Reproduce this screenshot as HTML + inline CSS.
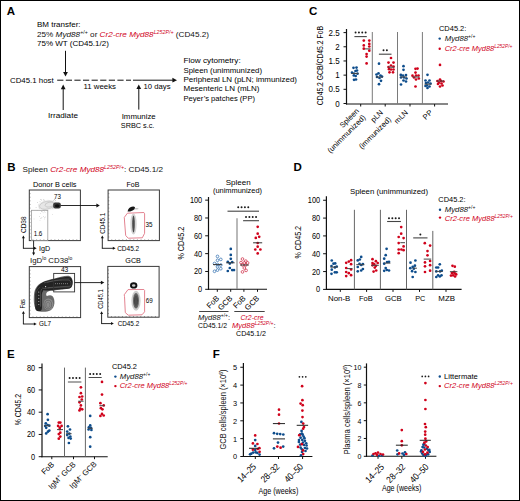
<!DOCTYPE html>
<html><head><meta charset="utf-8"><title>Figure</title>
<style>
html,body{margin:0;padding:0;background:#fff;}
svg{display:block;}
svg text{font-family:"Liberation Sans", sans-serif;}
</style></head>
<body>
<svg width="520" height="501" viewBox="0 0 520 501">
<rect x="0" y="0" width="520" height="501" fill="#fff"/>
<text x="6.80" y="15.20" font-size="11.5" fill="#000" font-weight="bold" >A</text>
<text x="308.90" y="15.20" font-size="11.5" fill="#000" font-weight="bold" >C</text>
<text x="7.20" y="171.40" font-size="11.5" fill="#000" font-weight="bold" >B</text>
<text x="293.60" y="171.40" font-size="11.5" fill="#000" font-weight="bold" >D</text>
<text x="7.00" y="357.80" font-size="11.5" fill="#000" font-weight="bold" >E</text>
<text x="212.80" y="357.80" font-size="11.5" fill="#000" font-weight="bold" >F</text>
<text x="37.00" y="26.80" font-size="8" >BM transfer:</text>
<text x="37" y="36.5" font-size="8" fill="#111" textLength="172" lengthAdjust="spacingAndGlyphs">25% <tspan font-style="italic">Myd88</tspan><tspan font-size="5.2" dy="-3">+/+</tspan><tspan dy="3"> or </tspan><tspan fill="#d0021b" font-style="italic">Cr2-cre Myd88</tspan><tspan fill="#d0021b" font-style="italic" font-size="5.2" dy="-3">L252P/+</tspan><tspan dy="3"> (CD45.2)</tspan></text>
<text x="37.00" y="45.50" font-size="8" >75% WT (CD45.1/2)</text>
<line x1="65.50" y1="50.80" x2="65.50" y2="72.40" stroke="#111" stroke-width="1" />
<path d="M63.10,71.90 L67.90,71.90 L65.50,76.50 Z" fill="#111"/>
<text x="10.00" y="82.60" font-size="8" textLength="43.70" lengthAdjust="spacingAndGlyphs" >CD45.1 host</text>
<line x1="57.2" y1="80.2" x2="131" y2="80.2" stroke="#111" stroke-width="1" stroke-dasharray="6.2 2.4"/>
<line x1="133.00" y1="80.20" x2="172.90" y2="80.20" stroke="#111" stroke-width="1" />
<path d="M172.40,77.80 L172.40,82.60 L177.00,80.20 Z" fill="#111"/>
<line x1="63.20" y1="110.00" x2="63.20" y2="88.70" stroke="#111" stroke-width="1" />
<path d="M60.80,89.20 L65.60,89.20 L63.20,84.60 Z" fill="#111"/>
<line x1="138.80" y1="109.60" x2="138.80" y2="88.50" stroke="#111" stroke-width="1" />
<path d="M136.40,89.00 L141.20,89.00 L138.80,84.40 Z" fill="#111"/>
<text x="83.50" y="88.60" font-size="8" textLength="32.50" lengthAdjust="spacingAndGlyphs" >11 weeks</text>
<text x="143.50" y="88.60" font-size="8" textLength="27.00" lengthAdjust="spacingAndGlyphs" >10 days</text>
<text x="48.00" y="118.20" font-size="8" textLength="30.00" lengthAdjust="spacingAndGlyphs" >Irradiate</text>
<text x="121.70" y="118.60" font-size="8" textLength="34.00" lengthAdjust="spacingAndGlyphs" >Immunize</text>
<text x="120.80" y="127.80" font-size="8" textLength="33.60" lengthAdjust="spacingAndGlyphs" >SRBC s.c.</text>
<text x="183.50" y="63.00" font-size="8" textLength="57.20" lengthAdjust="spacingAndGlyphs" >Flow cytometry:</text>
<text x="183.50" y="72.50" font-size="8" textLength="78.50" lengthAdjust="spacingAndGlyphs" >Spleen (unimmunized)</text>
<text x="183.50" y="82.00" font-size="8" textLength="113.50" lengthAdjust="spacingAndGlyphs" >Peripheral LN (pLN; immunized)</text>
<text x="183.50" y="91.30" font-size="8" textLength="76.00" lengthAdjust="spacingAndGlyphs" >Mesenteric LN (mLN)</text>
<text x="183.50" y="100.80" font-size="8" textLength="71.50" lengthAdjust="spacingAndGlyphs" >Peyer’s patches (PP)</text>
<line x1="346.50" y1="29.00" x2="346.50" y2="104.50" stroke="#111" stroke-width="1.2" />
<line x1="343.50" y1="32.60" x2="346.50" y2="32.60" stroke="#111" stroke-width="1" />
<text x="339.60" y="35.70" font-size="8.6" text-anchor="end" textLength="11.10" lengthAdjust="spacingAndGlyphs" >2.5</text>
<line x1="343.50" y1="46.78" x2="346.50" y2="46.78" stroke="#111" stroke-width="1" />
<text x="339.60" y="49.88" font-size="8.6" text-anchor="end" textLength="4.44" lengthAdjust="spacingAndGlyphs" >2</text>
<line x1="343.50" y1="60.96" x2="346.50" y2="60.96" stroke="#111" stroke-width="1" />
<text x="339.60" y="64.06" font-size="8.6" text-anchor="end" textLength="11.10" lengthAdjust="spacingAndGlyphs" >1.5</text>
<line x1="343.50" y1="75.14" x2="346.50" y2="75.14" stroke="#111" stroke-width="1" />
<text x="339.60" y="78.24" font-size="8.6" text-anchor="end" textLength="4.44" lengthAdjust="spacingAndGlyphs" >1</text>
<line x1="343.50" y1="89.32" x2="346.50" y2="89.32" stroke="#111" stroke-width="1" />
<text x="339.60" y="92.42" font-size="8.6" text-anchor="end" textLength="11.10" lengthAdjust="spacingAndGlyphs" >0.5</text>
<line x1="343.50" y1="103.50" x2="346.50" y2="103.50" stroke="#111" stroke-width="1" />
<text x="339.60" y="106.60" font-size="8.6" text-anchor="end" textLength="4.44" lengthAdjust="spacingAndGlyphs" >0</text>
<line x1="346.00" y1="104.00" x2="448.00" y2="104.00" stroke="#111" stroke-width="1.1" />
<line x1="360.70" y1="104.00" x2="360.70" y2="106.50" stroke="#111" stroke-width="1" />
<line x1="385.20" y1="104.00" x2="385.20" y2="106.50" stroke="#111" stroke-width="1" />
<line x1="410.00" y1="104.00" x2="410.00" y2="106.50" stroke="#111" stroke-width="1" />
<line x1="434.60" y1="104.00" x2="434.60" y2="106.50" stroke="#111" stroke-width="1" />
<line x1="372.30" y1="32.00" x2="372.30" y2="104.00" stroke="#7a7a7a" stroke-width="1" />
<line x1="397.50" y1="32.00" x2="397.50" y2="104.00" stroke="#7a7a7a" stroke-width="1" />
<line x1="422.40" y1="32.00" x2="422.40" y2="104.00" stroke="#7a7a7a" stroke-width="1" />
<text x="322.90" y="65.60" font-size="9.2" text-anchor="middle" textLength="79.20" lengthAdjust="spacingAndGlyphs" transform="rotate(-90 322.90 65.60)" >CD45.2 GCB/CD45.2 FoB</text>
<line x1="354.40" y1="36.60" x2="366.80" y2="36.60" stroke="#444" stroke-width="1.1" />
<circle cx="355.58" cy="32.60" r="0.98" fill="#1a1a1a"/>
<circle cx="358.93" cy="32.60" r="0.98" fill="#1a1a1a"/>
<circle cx="362.28" cy="32.60" r="0.98" fill="#1a1a1a"/>
<circle cx="365.63" cy="32.60" r="0.98" fill="#1a1a1a"/>
<line x1="378.90" y1="54.20" x2="391.50" y2="54.20" stroke="#444" stroke-width="1.1" />
<circle cx="383.52" cy="50.20" r="0.98" fill="#1a1a1a"/>
<circle cx="386.88" cy="50.20" r="0.98" fill="#1a1a1a"/>
<circle cx="353.50" cy="67.80" r="1.35" fill="#0e4d8c"/>
<circle cx="356.50" cy="67.60" r="1.35" fill="#0e4d8c"/>
<circle cx="352.00" cy="72.70" r="1.35" fill="#0e4d8c"/>
<circle cx="355.50" cy="71.00" r="1.35" fill="#0e4d8c"/>
<circle cx="357.00" cy="70.50" r="1.35" fill="#0e4d8c"/>
<circle cx="354.00" cy="73.50" r="1.35" fill="#0e4d8c"/>
<circle cx="357.50" cy="73.70" r="1.35" fill="#0e4d8c"/>
<circle cx="353.80" cy="75.50" r="1.35" fill="#0e4d8c"/>
<circle cx="355.70" cy="76.00" r="1.35" fill="#0e4d8c"/>
<circle cx="354.00" cy="79.80" r="1.35" fill="#0e4d8c"/>
<circle cx="356.00" cy="79.50" r="1.35" fill="#0e4d8c"/>
<circle cx="363.80" cy="40.60" r="1.35" fill="#d0021b"/>
<circle cx="369.30" cy="40.60" r="1.35" fill="#d0021b"/>
<circle cx="369.30" cy="43.90" r="1.35" fill="#d0021b"/>
<circle cx="363.80" cy="45.40" r="1.35" fill="#d0021b"/>
<circle cx="369.30" cy="46.50" r="1.35" fill="#d0021b"/>
<circle cx="363.80" cy="48.70" r="1.35" fill="#d0021b"/>
<circle cx="369.30" cy="50.70" r="1.35" fill="#d0021b"/>
<circle cx="366.60" cy="54.00" r="1.35" fill="#d0021b"/>
<circle cx="366.60" cy="56.60" r="1.35" fill="#d0021b"/>
<circle cx="366.60" cy="63.40" r="1.35" fill="#d0021b"/>
<circle cx="379.00" cy="63.70" r="1.35" fill="#0e4d8c"/>
<circle cx="376.50" cy="74.50" r="1.35" fill="#0e4d8c"/>
<circle cx="378.50" cy="73.30" r="1.35" fill="#0e4d8c"/>
<circle cx="380.50" cy="75.50" r="1.35" fill="#0e4d8c"/>
<circle cx="382.00" cy="76.60" r="1.35" fill="#0e4d8c"/>
<circle cx="377.00" cy="77.00" r="1.35" fill="#0e4d8c"/>
<circle cx="379.50" cy="78.00" r="1.35" fill="#0e4d8c"/>
<circle cx="381.00" cy="80.80" r="1.35" fill="#0e4d8c"/>
<circle cx="379.00" cy="84.20" r="1.35" fill="#0e4d8c"/>
<circle cx="391.00" cy="58.00" r="1.35" fill="#d0021b"/>
<circle cx="388.50" cy="62.60" r="1.35" fill="#d0021b"/>
<circle cx="393.50" cy="62.60" r="1.35" fill="#d0021b"/>
<circle cx="391.00" cy="65.50" r="1.35" fill="#d0021b"/>
<circle cx="388.50" cy="67.00" r="1.35" fill="#d0021b"/>
<circle cx="393.50" cy="66.50" r="1.35" fill="#d0021b"/>
<circle cx="389.00" cy="69.20" r="1.35" fill="#d0021b"/>
<circle cx="391.00" cy="69.50" r="1.35" fill="#d0021b"/>
<circle cx="393.50" cy="69.50" r="1.35" fill="#d0021b"/>
<circle cx="389.50" cy="72.30" r="1.35" fill="#d0021b"/>
<circle cx="393.00" cy="72.30" r="1.35" fill="#d0021b"/>
<circle cx="403.50" cy="66.20" r="1.35" fill="#0e4d8c"/>
<circle cx="403.50" cy="69.80" r="1.35" fill="#0e4d8c"/>
<circle cx="400.80" cy="74.90" r="1.35" fill="#0e4d8c"/>
<circle cx="403.00" cy="75.50" r="1.35" fill="#0e4d8c"/>
<circle cx="406.00" cy="75.00" r="1.35" fill="#0e4d8c"/>
<circle cx="401.00" cy="77.50" r="1.35" fill="#0e4d8c"/>
<circle cx="404.00" cy="77.50" r="1.35" fill="#0e4d8c"/>
<circle cx="406.50" cy="78.50" r="1.35" fill="#0e4d8c"/>
<circle cx="403.50" cy="80.50" r="1.35" fill="#0e4d8c"/>
<circle cx="406.00" cy="81.50" r="1.35" fill="#0e4d8c"/>
<circle cx="401.00" cy="84.50" r="1.35" fill="#0e4d8c"/>
<circle cx="415.50" cy="68.80" r="1.35" fill="#d0021b"/>
<circle cx="417.50" cy="68.60" r="1.35" fill="#d0021b"/>
<circle cx="415.50" cy="72.60" r="1.35" fill="#d0021b"/>
<circle cx="412.50" cy="75.70" r="1.35" fill="#d0021b"/>
<circle cx="416.00" cy="75.50" r="1.35" fill="#d0021b"/>
<circle cx="418.50" cy="75.50" r="1.35" fill="#d0021b"/>
<circle cx="414.00" cy="77.50" r="1.35" fill="#d0021b"/>
<circle cx="418.80" cy="78.50" r="1.35" fill="#d0021b"/>
<circle cx="416.00" cy="79.50" r="1.35" fill="#d0021b"/>
<circle cx="415.50" cy="86.50" r="1.35" fill="#d0021b"/>
<circle cx="427.50" cy="74.80" r="1.35" fill="#0e4d8c"/>
<circle cx="425.50" cy="80.50" r="1.35" fill="#0e4d8c"/>
<circle cx="429.50" cy="80.50" r="1.35" fill="#0e4d8c"/>
<circle cx="426.00" cy="83.00" r="1.35" fill="#0e4d8c"/>
<circle cx="428.00" cy="82.50" r="1.35" fill="#0e4d8c"/>
<circle cx="430.50" cy="83.50" r="1.35" fill="#0e4d8c"/>
<circle cx="427.00" cy="85.50" r="1.35" fill="#0e4d8c"/>
<circle cx="429.50" cy="86.50" r="1.35" fill="#0e4d8c"/>
<circle cx="425.50" cy="86.00" r="1.35" fill="#0e4d8c"/>
<circle cx="427.50" cy="88.00" r="1.35" fill="#0e4d8c"/>
<circle cx="440.00" cy="64.90" r="1.35" fill="#d0021b"/>
<circle cx="440.00" cy="79.50" r="1.35" fill="#d0021b"/>
<circle cx="437.50" cy="81.00" r="1.35" fill="#d0021b"/>
<circle cx="441.00" cy="81.00" r="1.35" fill="#d0021b"/>
<circle cx="443.50" cy="81.50" r="1.35" fill="#d0021b"/>
<circle cx="439.00" cy="82.60" r="1.35" fill="#d0021b"/>
<circle cx="441.50" cy="83.50" r="1.35" fill="#d0021b"/>
<circle cx="438.00" cy="84.00" r="1.35" fill="#d0021b"/>
<circle cx="440.00" cy="86.50" r="1.35" fill="#d0021b"/>
<circle cx="442.50" cy="85.50" r="1.35" fill="#d0021b"/>
<line x1="351.50" y1="73.50" x2="358.50" y2="73.50" stroke="#444" stroke-width="1" />
<line x1="364.90" y1="48.90" x2="370.60" y2="48.90" stroke="#444" stroke-width="1" />
<line x1="376.00" y1="77.00" x2="383.00" y2="77.00" stroke="#444" stroke-width="1" />
<line x1="388.00" y1="67.20" x2="394.50" y2="67.20" stroke="#444" stroke-width="1" />
<line x1="400.50" y1="77.00" x2="407.00" y2="77.00" stroke="#444" stroke-width="1" />
<line x1="412.50" y1="77.00" x2="419.50" y2="77.00" stroke="#444" stroke-width="1" />
<line x1="424.50" y1="84.20" x2="431.50" y2="84.20" stroke="#444" stroke-width="1" />
<line x1="436.50" y1="81.00" x2="444.00" y2="81.00" stroke="#444" stroke-width="1" />
<text x="359.50" y="111.50" font-size="7.6" text-anchor="end" transform="rotate(-45 359.50 111.50)" >Spleen</text>
<text x="366.00" y="118.00" font-size="7.6" text-anchor="end" transform="rotate(-45 366.00 118.00)" >(unimmunized)</text>
<text x="383.50" y="113.00" font-size="7.6" text-anchor="end" transform="rotate(-45 383.50 113.00)" >pLN</text>
<text x="391.50" y="120.00" font-size="7.6" text-anchor="end" transform="rotate(-45 391.50 120.00)" >(immunized)</text>
<text x="408.50" y="113.00" font-size="7.6" text-anchor="end" transform="rotate(-45 408.50 113.00)" >mLN</text>
<text x="433.00" y="113.00" font-size="7.6" text-anchor="end" transform="rotate(-45 433.00 113.00)" >PP</text>
<text x="439.00" y="31.00" font-size="7.8" textLength="27.30" lengthAdjust="spacingAndGlyphs" >CD45.2:</text>
<circle cx="439.70" cy="38.60" r="1.2" fill="#0e4d8c"/>
<text x="444.7" y="41" font-size="7.8" font-style="italic" fill="#111">Myd88<tspan font-size="5" dy="-3" font-style="normal">+/+</tspan></text>
<circle cx="439.70" cy="48.80" r="1.2" fill="#d0021b"/>
<text x="444.7" y="50.8" font-size="7.8" font-style="italic" fill="#d0021b" textLength="67.6" lengthAdjust="spacingAndGlyphs">Cr2-cre Myd88<tspan font-size="5" dy="-3">L252P/+</tspan></text>
<text x="22.5" y="171.5" font-size="8" fill="#111" textLength="140.5" lengthAdjust="spacingAndGlyphs">Spleen <tspan fill="#d0021b" font-style="italic">Cr2-cre Myd88</tspan><tspan fill="#d0021b" font-style="italic" font-size="5.2" dy="-3">L252P/+</tspan><tspan dy="3">: CD45.1/2</tspan></text>
<defs><filter id="bl" x="-50%" y="-50%" width="200%" height="200%"><feGaussianBlur stdDeviation="0.6"/></filter><filter id="bl2" x="-50%" y="-50%" width="200%" height="200%"><feGaussianBlur stdDeviation="1.2"/></filter></defs>
<text x="32.90" y="186.70" font-size="8" textLength="43.60" lengthAdjust="spacingAndGlyphs" >Donor B cells</text>
<rect x="29.30" y="190.00" width="51.10" height="50.60" fill="none" stroke="#3a3a3a" stroke-width="1"/>
<line x1="29.30" y1="193.61" x2="30.50" y2="193.61" stroke="#555" stroke-width="0.6" />
<line x1="32.95" y1="240.60" x2="32.95" y2="239.40" stroke="#555" stroke-width="0.6" />
<line x1="29.30" y1="197.23" x2="30.50" y2="197.23" stroke="#555" stroke-width="0.6" />
<line x1="36.60" y1="240.60" x2="36.60" y2="239.40" stroke="#555" stroke-width="0.6" />
<line x1="29.30" y1="200.84" x2="30.50" y2="200.84" stroke="#555" stroke-width="0.6" />
<line x1="40.25" y1="240.60" x2="40.25" y2="239.40" stroke="#555" stroke-width="0.6" />
<line x1="29.30" y1="204.46" x2="30.50" y2="204.46" stroke="#555" stroke-width="0.6" />
<line x1="43.90" y1="240.60" x2="43.90" y2="239.40" stroke="#555" stroke-width="0.6" />
<line x1="29.30" y1="208.07" x2="30.50" y2="208.07" stroke="#555" stroke-width="0.6" />
<line x1="47.55" y1="240.60" x2="47.55" y2="239.40" stroke="#555" stroke-width="0.6" />
<line x1="29.30" y1="211.69" x2="30.50" y2="211.69" stroke="#555" stroke-width="0.6" />
<line x1="51.20" y1="240.60" x2="51.20" y2="239.40" stroke="#555" stroke-width="0.6" />
<line x1="29.30" y1="215.30" x2="30.50" y2="215.30" stroke="#555" stroke-width="0.6" />
<line x1="54.85" y1="240.60" x2="54.85" y2="239.40" stroke="#555" stroke-width="0.6" />
<line x1="29.30" y1="218.91" x2="30.50" y2="218.91" stroke="#555" stroke-width="0.6" />
<line x1="58.50" y1="240.60" x2="58.50" y2="239.40" stroke="#555" stroke-width="0.6" />
<line x1="29.30" y1="222.53" x2="30.50" y2="222.53" stroke="#555" stroke-width="0.6" />
<line x1="62.15" y1="240.60" x2="62.15" y2="239.40" stroke="#555" stroke-width="0.6" />
<line x1="29.30" y1="226.14" x2="30.50" y2="226.14" stroke="#555" stroke-width="0.6" />
<line x1="65.80" y1="240.60" x2="65.80" y2="239.40" stroke="#555" stroke-width="0.6" />
<line x1="29.30" y1="229.76" x2="30.50" y2="229.76" stroke="#555" stroke-width="0.6" />
<line x1="69.45" y1="240.60" x2="69.45" y2="239.40" stroke="#555" stroke-width="0.6" />
<line x1="29.30" y1="233.37" x2="30.50" y2="233.37" stroke="#555" stroke-width="0.6" />
<line x1="73.10" y1="240.60" x2="73.10" y2="239.40" stroke="#555" stroke-width="0.6" />
<line x1="29.30" y1="236.99" x2="30.50" y2="236.99" stroke="#555" stroke-width="0.6" />
<line x1="76.75" y1="240.60" x2="76.75" y2="239.40" stroke="#555" stroke-width="0.6" />
<circle cx="46.43" cy="208.75" r="0.45" fill="#aaa"/>
<circle cx="41.81" cy="208.08" r="0.45" fill="#aaa"/>
<circle cx="44.83" cy="204.82" r="0.45" fill="#aaa"/>
<circle cx="54.55" cy="205.91" r="0.45" fill="#aaa"/>
<circle cx="45.81" cy="207.40" r="0.45" fill="#aaa"/>
<circle cx="51.07" cy="205.42" r="0.45" fill="#aaa"/>
<circle cx="48.65" cy="202.97" r="0.45" fill="#aaa"/>
<circle cx="44.35" cy="204.36" r="0.45" fill="#aaa"/>
<circle cx="40.00" cy="201.58" r="0.45" fill="#aaa"/>
<circle cx="38.68" cy="204.88" r="0.45" fill="#aaa"/>
<circle cx="45.22" cy="204.67" r="0.45" fill="#aaa"/>
<circle cx="46.31" cy="202.03" r="0.45" fill="#aaa"/>
<circle cx="45.64" cy="206.12" r="0.45" fill="#aaa"/>
<circle cx="49.38" cy="203.30" r="0.45" fill="#aaa"/>
<circle cx="44.20" cy="200.26" r="0.45" fill="#aaa"/>
<circle cx="43.73" cy="199.79" r="0.45" fill="#aaa"/>
<circle cx="39.61" cy="208.36" r="0.45" fill="#aaa"/>
<circle cx="36.09" cy="207.58" r="0.45" fill="#aaa"/>
<circle cx="47.48" cy="204.69" r="0.45" fill="#aaa"/>
<circle cx="48.07" cy="206.87" r="0.45" fill="#aaa"/>
<circle cx="50.70" cy="204.90" r="0.45" fill="#aaa"/>
<circle cx="43.34" cy="203.93" r="0.45" fill="#aaa"/>
<circle cx="41.56" cy="205.38" r="0.45" fill="#aaa"/>
<circle cx="42.46" cy="208.28" r="0.45" fill="#aaa"/>
<circle cx="37.59" cy="202.66" r="0.45" fill="#aaa"/>
<circle cx="41.71" cy="200.06" r="0.45" fill="#aaa"/>
<circle cx="54.56" cy="199.24" r="0.45" fill="#aaa"/>
<circle cx="44.73" cy="204.13" r="0.45" fill="#aaa"/>
<circle cx="53.45" cy="200.34" r="0.45" fill="#aaa"/>
<circle cx="50.82" cy="203.60" r="0.45" fill="#aaa"/>
<circle cx="45.30" cy="203.76" r="0.45" fill="#aaa"/>
<circle cx="48.88" cy="202.54" r="0.45" fill="#aaa"/>
<circle cx="45.64" cy="206.42" r="0.45" fill="#aaa"/>
<circle cx="54.28" cy="199.25" r="0.45" fill="#aaa"/>
<circle cx="52.86" cy="207.96" r="0.45" fill="#aaa"/>
<circle cx="43.82" cy="206.29" r="0.45" fill="#aaa"/>
<circle cx="43.90" cy="209.78" r="0.45" fill="#aaa"/>
<circle cx="46.94" cy="204.94" r="0.45" fill="#aaa"/>
<circle cx="44.97" cy="204.98" r="0.45" fill="#aaa"/>
<circle cx="45.21" cy="203.21" r="0.45" fill="#aaa"/>
<circle cx="55.26" cy="200.53" r="0.45" fill="#aaa"/>
<circle cx="45.34" cy="206.47" r="0.45" fill="#aaa"/>
<circle cx="45.08" cy="205.11" r="0.45" fill="#aaa"/>
<circle cx="47.50" cy="208.02" r="0.45" fill="#aaa"/>
<circle cx="43.98" cy="204.53" r="0.45" fill="#aaa"/>
<circle cx="54.73" cy="206.88" r="0.45" fill="#aaa"/>
<circle cx="41.57" cy="211.54" r="0.45" fill="#aaa"/>
<circle cx="49.49" cy="203.97" r="0.45" fill="#aaa"/>
<circle cx="40.72" cy="206.28" r="0.45" fill="#aaa"/>
<circle cx="42.26" cy="202.75" r="0.45" fill="#aaa"/>
<circle cx="40.17" cy="204.18" r="0.45" fill="#aaa"/>
<circle cx="50.98" cy="204.37" r="0.45" fill="#aaa"/>
<circle cx="39.48" cy="207.24" r="0.45" fill="#aaa"/>
<circle cx="46.30" cy="207.69" r="0.45" fill="#aaa"/>
<circle cx="51.41" cy="205.06" r="0.45" fill="#aaa"/>
<circle cx="45.35" cy="205.38" r="0.45" fill="#aaa"/>
<circle cx="40.89" cy="207.24" r="0.45" fill="#aaa"/>
<circle cx="52.17" cy="205.95" r="0.45" fill="#aaa"/>
<circle cx="44.93" cy="204.82" r="0.45" fill="#aaa"/>
<circle cx="42.49" cy="203.41" r="0.45" fill="#aaa"/>
<circle cx="44.20" cy="203.31" r="0.45" fill="#aaa"/>
<circle cx="44.03" cy="201.40" r="0.45" fill="#aaa"/>
<circle cx="47.58" cy="205.63" r="0.45" fill="#aaa"/>
<circle cx="40.81" cy="199.52" r="0.45" fill="#aaa"/>
<circle cx="45.96" cy="208.37" r="0.45" fill="#aaa"/>
<circle cx="42.70" cy="204.24" r="0.45" fill="#aaa"/>
<circle cx="43.44" cy="207.20" r="0.45" fill="#aaa"/>
<circle cx="41.88" cy="208.06" r="0.45" fill="#aaa"/>
<circle cx="44.64" cy="207.90" r="0.45" fill="#aaa"/>
<circle cx="43.13" cy="212.84" r="0.4" fill="#bbb"/>
<circle cx="37.09" cy="210.56" r="0.4" fill="#bbb"/>
<circle cx="41.95" cy="217.30" r="0.4" fill="#bbb"/>
<circle cx="43.98" cy="210.52" r="0.4" fill="#bbb"/>
<circle cx="44.64" cy="218.94" r="0.4" fill="#bbb"/>
<circle cx="42.41" cy="211.80" r="0.4" fill="#bbb"/>
<circle cx="41.42" cy="218.05" r="0.4" fill="#bbb"/>
<circle cx="45.15" cy="209.35" r="0.4" fill="#bbb"/>
<circle cx="44.50" cy="211.60" r="0.4" fill="#bbb"/>
<circle cx="40.00" cy="220.20" r="0.4" fill="#bbb"/>
<circle cx="46.28" cy="210.38" r="0.4" fill="#bbb"/>
<circle cx="43.32" cy="216.51" r="0.4" fill="#bbb"/>
<circle cx="40.44" cy="213.40" r="0.4" fill="#bbb"/>
<circle cx="45.67" cy="205.05" r="0.4" fill="#bbb"/>
<circle cx="44.31" cy="217.69" r="0.4" fill="#bbb"/>
<circle cx="45.02" cy="207.29" r="0.4" fill="#bbb"/>
<circle cx="44.27" cy="209.68" r="0.4" fill="#bbb"/>
<circle cx="45.28" cy="217.02" r="0.4" fill="#bbb"/>
<circle cx="43.87" cy="210.17" r="0.4" fill="#bbb"/>
<circle cx="40.64" cy="218.27" r="0.4" fill="#bbb"/>
<circle cx="39.40" cy="216.48" r="0.4" fill="#bbb"/>
<circle cx="45.05" cy="212.61" r="0.4" fill="#bbb"/>
<circle cx="52.58" cy="214.35" r="0.4" fill="#bbb"/>
<circle cx="51.59" cy="203.92" r="0.4" fill="#bbb"/>
<circle cx="34.03" cy="218.91" r="0.4" fill="#bbb"/>
<ellipse cx="50.5" cy="205.3" rx="7" ry="3.2" fill="#999" opacity="0.45" filter="url(#bl2)"/>
<ellipse cx="46.5" cy="205" rx="8.5" ry="4.6" fill="#e6e6e6" transform="rotate(-12 46.5 205)" filter="url(#bl)"/>
<ellipse cx="47" cy="205.2" rx="7.6" ry="3.8" fill="none" stroke="#c4c4c4" stroke-width="0.7" transform="rotate(-12 47 205.2)"/>
<ellipse cx="49.5" cy="204.6" rx="4.5" ry="2.4" fill="none" stroke="#bbb" stroke-width="0.6" transform="rotate(-12 49.5 204.6)"/>
<rect x="53.2" y="202.6" width="7.6" height="6" rx="2" fill="#3a3a3a" filter="url(#bl)"/>
<ellipse cx="57.3" cy="205.8" rx="2.4" ry="1.6" fill="#111"/>
<rect x="31.4" y="210.3" width="16.4" height="30.3" fill="none" stroke="#999" stroke-width="0.8"/>
<text x="54.10" y="198.60" font-size="7.6" textLength="6.90" lengthAdjust="spacingAndGlyphs" >73</text>
<text x="33.70" y="236.30" font-size="7.6" textLength="8.60" lengthAdjust="spacingAndGlyphs" >1.6</text>
<line x1="60.50" y1="205.50" x2="96.90" y2="205.50" stroke="#111" stroke-width="0.9" />
<path d="M96.40,203.60 L96.40,207.40 L99.80,205.50 Z" fill="#111"/>
<line x1="23.40" y1="248.30" x2="23.40" y2="237.60" stroke="#111" stroke-width="0.9" />
<path d="M21.90,238.20 L24.90,238.20 L23.40,235.40 Z" fill="#111"/>
<line x1="22.95" y1="248.30" x2="34.50" y2="248.30" stroke="#111" stroke-width="0.9" />
<path d="M33.90,246.80 L33.90,249.80 L36.70,248.30 Z" fill="#111"/>
<text x="25.60" y="224.70" font-size="7.2" text-anchor="middle" textLength="16.80" lengthAdjust="spacingAndGlyphs" transform="rotate(-90 25.60 224.70)" >CD38</text>
<text x="39.00" y="250.60" font-size="7.2" >IgD</text>
<line x1="33.60" y1="240.60" x2="33.60" y2="253.20" stroke="#111" stroke-width="0.9" />
<path d="M32.10,252.60 L35.10,252.60 L33.60,255.40 Z" fill="#111"/>
<text x="30.1" y="262.8" font-size="8" fill="#111" textLength="42.2" lengthAdjust="spacingAndGlyphs">IgD<tspan font-size="5.2" dy="-3">lo</tspan><tspan dy="3"> CD38</tspan><tspan font-size="5.2" dy="-3">lo</tspan></text>
<text x="126.50" y="186.70" font-size="8" textLength="12.90" lengthAdjust="spacingAndGlyphs" >FoB</text>
<rect x="108.10" y="190.00" width="51.30" height="50.60" fill="none" stroke="#3a3a3a" stroke-width="1"/>
<line x1="108.10" y1="193.61" x2="109.30" y2="193.61" stroke="#555" stroke-width="0.6" />
<line x1="111.76" y1="240.60" x2="111.76" y2="239.40" stroke="#555" stroke-width="0.6" />
<line x1="108.10" y1="197.23" x2="109.30" y2="197.23" stroke="#555" stroke-width="0.6" />
<line x1="115.43" y1="240.60" x2="115.43" y2="239.40" stroke="#555" stroke-width="0.6" />
<line x1="108.10" y1="200.84" x2="109.30" y2="200.84" stroke="#555" stroke-width="0.6" />
<line x1="119.09" y1="240.60" x2="119.09" y2="239.40" stroke="#555" stroke-width="0.6" />
<line x1="108.10" y1="204.46" x2="109.30" y2="204.46" stroke="#555" stroke-width="0.6" />
<line x1="122.76" y1="240.60" x2="122.76" y2="239.40" stroke="#555" stroke-width="0.6" />
<line x1="108.10" y1="208.07" x2="109.30" y2="208.07" stroke="#555" stroke-width="0.6" />
<line x1="126.42" y1="240.60" x2="126.42" y2="239.40" stroke="#555" stroke-width="0.6" />
<line x1="108.10" y1="211.69" x2="109.30" y2="211.69" stroke="#555" stroke-width="0.6" />
<line x1="130.09" y1="240.60" x2="130.09" y2="239.40" stroke="#555" stroke-width="0.6" />
<line x1="108.10" y1="215.30" x2="109.30" y2="215.30" stroke="#555" stroke-width="0.6" />
<line x1="133.75" y1="240.60" x2="133.75" y2="239.40" stroke="#555" stroke-width="0.6" />
<line x1="108.10" y1="218.91" x2="109.30" y2="218.91" stroke="#555" stroke-width="0.6" />
<line x1="137.41" y1="240.60" x2="137.41" y2="239.40" stroke="#555" stroke-width="0.6" />
<line x1="108.10" y1="222.53" x2="109.30" y2="222.53" stroke="#555" stroke-width="0.6" />
<line x1="141.08" y1="240.60" x2="141.08" y2="239.40" stroke="#555" stroke-width="0.6" />
<line x1="108.10" y1="226.14" x2="109.30" y2="226.14" stroke="#555" stroke-width="0.6" />
<line x1="144.74" y1="240.60" x2="144.74" y2="239.40" stroke="#555" stroke-width="0.6" />
<line x1="108.10" y1="229.76" x2="109.30" y2="229.76" stroke="#555" stroke-width="0.6" />
<line x1="148.41" y1="240.60" x2="148.41" y2="239.40" stroke="#555" stroke-width="0.6" />
<line x1="108.10" y1="233.37" x2="109.30" y2="233.37" stroke="#555" stroke-width="0.6" />
<line x1="152.07" y1="240.60" x2="152.07" y2="239.40" stroke="#555" stroke-width="0.6" />
<line x1="108.10" y1="236.99" x2="109.30" y2="236.99" stroke="#555" stroke-width="0.6" />
<line x1="155.74" y1="240.60" x2="155.74" y2="239.40" stroke="#555" stroke-width="0.6" />
<path d="M124.3,217.4 L127.4,213.2 L143.9,212.5 L144.6,213.8 L144.6,233.3 L142.3,237.8 L128.3,238.2 L125.7,235.6 L124.6,222 Z" fill="none" stroke="#e07585" stroke-width="0.9"/>
<ellipse cx="133.5" cy="224" rx="3.2" ry="10.5" fill="#aaa" opacity="0.5" filter="url(#bl)"/>
<ellipse cx="133.5" cy="224" rx="1.3" ry="8.6" fill="#333" opacity="0.85" filter="url(#bl)"/>
<path d="M127.6,211.6 C127.8,209 130,206.8 133,206.6 C134.8,206.5 135.6,207.6 134.6,209 C133.4,210.6 130.5,211.8 127.6,211.6 Z" fill="#151515" filter="url(#bl)"/>
<ellipse cx="136.3" cy="208.7" rx="2.3" ry="0.8" fill="#888" opacity="0.5" filter="url(#bl)"/>
<text x="145.40" y="226.90" font-size="7.6" textLength="7.00" lengthAdjust="spacingAndGlyphs" >35</text>
<line x1="102.30" y1="248.30" x2="102.30" y2="237.60" stroke="#111" stroke-width="0.9" />
<path d="M100.80,238.20 L103.80,238.20 L102.30,235.40 Z" fill="#111"/>
<line x1="101.85" y1="248.30" x2="113.40" y2="248.30" stroke="#111" stroke-width="0.9" />
<path d="M112.80,246.80 L112.80,249.80 L115.60,248.30 Z" fill="#111"/>
<text x="104.90" y="223.30" font-size="7.2" text-anchor="middle" textLength="21.00" lengthAdjust="spacingAndGlyphs" transform="rotate(-90 104.90 223.30)" >CD45.1</text>
<text x="117.20" y="250.60" font-size="7.2" textLength="22.00" lengthAdjust="spacingAndGlyphs" >CD45.2</text>
<rect x="29.30" y="266.60" width="51.30" height="51.00" fill="none" stroke="#3a3a3a" stroke-width="1"/>
<line x1="29.30" y1="270.24" x2="30.50" y2="270.24" stroke="#555" stroke-width="0.6" />
<line x1="32.96" y1="317.60" x2="32.96" y2="316.40" stroke="#555" stroke-width="0.6" />
<line x1="29.30" y1="273.89" x2="30.50" y2="273.89" stroke="#555" stroke-width="0.6" />
<line x1="36.63" y1="317.60" x2="36.63" y2="316.40" stroke="#555" stroke-width="0.6" />
<line x1="29.30" y1="277.53" x2="30.50" y2="277.53" stroke="#555" stroke-width="0.6" />
<line x1="40.29" y1="317.60" x2="40.29" y2="316.40" stroke="#555" stroke-width="0.6" />
<line x1="29.30" y1="281.17" x2="30.50" y2="281.17" stroke="#555" stroke-width="0.6" />
<line x1="43.96" y1="317.60" x2="43.96" y2="316.40" stroke="#555" stroke-width="0.6" />
<line x1="29.30" y1="284.81" x2="30.50" y2="284.81" stroke="#555" stroke-width="0.6" />
<line x1="47.62" y1="317.60" x2="47.62" y2="316.40" stroke="#555" stroke-width="0.6" />
<line x1="29.30" y1="288.46" x2="30.50" y2="288.46" stroke="#555" stroke-width="0.6" />
<line x1="51.29" y1="317.60" x2="51.29" y2="316.40" stroke="#555" stroke-width="0.6" />
<line x1="29.30" y1="292.10" x2="30.50" y2="292.10" stroke="#555" stroke-width="0.6" />
<line x1="54.95" y1="317.60" x2="54.95" y2="316.40" stroke="#555" stroke-width="0.6" />
<line x1="29.30" y1="295.74" x2="30.50" y2="295.74" stroke="#555" stroke-width="0.6" />
<line x1="58.61" y1="317.60" x2="58.61" y2="316.40" stroke="#555" stroke-width="0.6" />
<line x1="29.30" y1="299.39" x2="30.50" y2="299.39" stroke="#555" stroke-width="0.6" />
<line x1="62.28" y1="317.60" x2="62.28" y2="316.40" stroke="#555" stroke-width="0.6" />
<line x1="29.30" y1="303.03" x2="30.50" y2="303.03" stroke="#555" stroke-width="0.6" />
<line x1="65.94" y1="317.60" x2="65.94" y2="316.40" stroke="#555" stroke-width="0.6" />
<line x1="29.30" y1="306.67" x2="30.50" y2="306.67" stroke="#555" stroke-width="0.6" />
<line x1="69.61" y1="317.60" x2="69.61" y2="316.40" stroke="#555" stroke-width="0.6" />
<line x1="29.30" y1="310.31" x2="30.50" y2="310.31" stroke="#555" stroke-width="0.6" />
<line x1="73.27" y1="317.60" x2="73.27" y2="316.40" stroke="#555" stroke-width="0.6" />
<line x1="29.30" y1="313.96" x2="30.50" y2="313.96" stroke="#555" stroke-width="0.6" />
<line x1="76.94" y1="317.60" x2="76.94" y2="316.40" stroke="#555" stroke-width="0.6" />
<g transform="translate(0,276) scale(1,1.04) translate(0,-276)">
<path d="M68.5,275.8 C70.8,276 72.4,278 72.6,281.5 C72.8,284.5 72,286.8 70.5,287.6 C68,288.8 62,289.1 57,289.4 C55,289.6 54,290.4 52,290.3 C50,290.2 47.8,290.7 46.6,292.2 C45.9,293.3 46.1,295.3 47,295.2 C48.5,294.6 50.8,294 52.6,295.4 C54.2,297 54.6,300 54.4,302.5 C54,305.5 52.6,307.9 50.3,309.2 C48,310.4 44,310.6 41,310.3 C38,310 35.5,308.4 34.5,305 C33.6,301.5 33.6,296 34.2,292 C34.8,289 36.5,286 39,284 C41.5,282 45,280.6 48.5,279.8 C53,278.8 57,278 61,276.8 C63.5,276.1 66,275.7 68.5,275.8 Z" fill="#6b6b6b" filter="url(#bl)"/>
<path d="M38.6,306.5 L38.4,294 C38.6,289 41.5,285.8 46.5,284.5" fill="none" stroke="#222" stroke-width="6.8" stroke-linecap="round" filter="url(#bl)"/>
<path d="M43.5,281.8 C51,279.6 59,277.4 67.5,276.7 C71.2,276.5 72.7,279.3 72.6,282.5 C72.5,285.8 71,287.9 68,288.3 C62,288.8 56,289 51,289.6 C47.5,290.1 45,290.4 43.2,289.2 C41.8,287.5 41.8,283 43.5,281.8 Z" fill="#222" filter="url(#bl)"/>
<path d="M47,282.2 C55,279.8 62,278.6 69.5,278.8" fill="none" stroke="#555" stroke-width="0.5"/>
<path d="M48,287.6 C56,287 63,286.9 69.8,286.6" fill="none" stroke="#555" stroke-width="0.5"/>
<path d="M36.2,305 L36,293.5 C36.2,290 38,288 40,286.8" fill="none" stroke="#555" stroke-width="0.5"/>
<path d="M44,282.6 C52,280.6 60,279.6 69,279.9 C71,280.2 71.6,284 70.5,285.8 C63,286.3 56,286.3 49,287.2 C45,288 43.5,288.5 42.6,287" fill="none" stroke="#777" stroke-width="0.45"/>
<path d="M40.6,305.5 L40.6,292 C40.8,289.8 41.5,288.7 42.5,288" fill="none" stroke="#777" stroke-width="0.45"/>
<ellipse cx="48.4" cy="303.2" rx="4.9" ry="5.6" fill="#8c8c8c" filter="url(#bl)"/>
<ellipse cx="48.2" cy="303.5" rx="3.4" ry="4.2" fill="none" stroke="#555" stroke-width="0.6"/>
<ellipse cx="48.1" cy="303.8" rx="1.8" ry="2.6" fill="none" stroke="#666" stroke-width="0.5"/>
<circle cx="55.5" cy="283.4" r="0.45" fill="#ddd"/>
<circle cx="57.5" cy="283.4" r="0.45" fill="#ddd"/>
<circle cx="59.5" cy="283.4" r="0.45" fill="#ddd"/>
<circle cx="61.5" cy="283.4" r="0.45" fill="#ddd"/>
<circle cx="63.5" cy="283.4" r="0.45" fill="#ddd"/>
<circle cx="65.5" cy="283.4" r="0.45" fill="#ddd"/>
<circle cx="67.3" cy="283.4" r="0.45" fill="#ddd"/>
<circle cx="38.8" cy="291.5" r="0.5" fill="#ccc"/>
<circle cx="38.8" cy="294.5" r="0.5" fill="#ccc"/>
<circle cx="38.8" cy="297.5" r="0.5" fill="#ccc"/>
<circle cx="38.8" cy="300.5" r="0.5" fill="#ccc"/>
<circle cx="38.8" cy="303.5" r="0.5" fill="#ccc"/>
<circle cx="45.6" cy="286.2" r="0.6" fill="#eee"/>
</g>
<rect x="53.7" y="273.4" width="20.9" height="18.5" fill="none" stroke="#333" stroke-width="0.9"/>
<text x="60.90" y="271.80" font-size="7.6" textLength="7.40" lengthAdjust="spacingAndGlyphs" >43</text>
<line x1="74.60" y1="282.60" x2="101.40" y2="282.60" stroke="#111" stroke-width="0.9" />
<path d="M100.90,280.70 L100.90,284.50 L104.30,282.60 Z" fill="#111"/>
<line x1="23.40" y1="324.00" x2="23.40" y2="313.20" stroke="#111" stroke-width="0.9" />
<path d="M21.90,313.80 L24.90,313.80 L23.40,311.00 Z" fill="#111"/>
<line x1="22.95" y1="324.00" x2="34.50" y2="324.00" stroke="#111" stroke-width="0.9" />
<path d="M33.90,322.50 L33.90,325.50 L36.70,324.00 Z" fill="#111"/>
<text x="25.40" y="303.80" font-size="7.6" text-anchor="middle" textLength="9.60" lengthAdjust="spacingAndGlyphs" transform="rotate(-90 25.40 303.80)" >Fas</text>
<text x="39.00" y="326.00" font-size="7.2" textLength="12.00" lengthAdjust="spacingAndGlyphs" >GL7</text>
<text x="125.30" y="262.80" font-size="8" textLength="15.60" lengthAdjust="spacingAndGlyphs" >GCB</text>
<rect x="107.80" y="266.40" width="51.30" height="50.80" fill="none" stroke="#3a3a3a" stroke-width="1"/>
<line x1="107.80" y1="270.03" x2="109.00" y2="270.03" stroke="#555" stroke-width="0.6" />
<line x1="111.46" y1="317.20" x2="111.46" y2="316.00" stroke="#555" stroke-width="0.6" />
<line x1="107.80" y1="273.66" x2="109.00" y2="273.66" stroke="#555" stroke-width="0.6" />
<line x1="115.13" y1="317.20" x2="115.13" y2="316.00" stroke="#555" stroke-width="0.6" />
<line x1="107.80" y1="277.29" x2="109.00" y2="277.29" stroke="#555" stroke-width="0.6" />
<line x1="118.79" y1="317.20" x2="118.79" y2="316.00" stroke="#555" stroke-width="0.6" />
<line x1="107.80" y1="280.91" x2="109.00" y2="280.91" stroke="#555" stroke-width="0.6" />
<line x1="122.46" y1="317.20" x2="122.46" y2="316.00" stroke="#555" stroke-width="0.6" />
<line x1="107.80" y1="284.54" x2="109.00" y2="284.54" stroke="#555" stroke-width="0.6" />
<line x1="126.12" y1="317.20" x2="126.12" y2="316.00" stroke="#555" stroke-width="0.6" />
<line x1="107.80" y1="288.17" x2="109.00" y2="288.17" stroke="#555" stroke-width="0.6" />
<line x1="129.79" y1="317.20" x2="129.79" y2="316.00" stroke="#555" stroke-width="0.6" />
<line x1="107.80" y1="291.80" x2="109.00" y2="291.80" stroke="#555" stroke-width="0.6" />
<line x1="133.45" y1="317.20" x2="133.45" y2="316.00" stroke="#555" stroke-width="0.6" />
<line x1="107.80" y1="295.43" x2="109.00" y2="295.43" stroke="#555" stroke-width="0.6" />
<line x1="137.11" y1="317.20" x2="137.11" y2="316.00" stroke="#555" stroke-width="0.6" />
<line x1="107.80" y1="299.06" x2="109.00" y2="299.06" stroke="#555" stroke-width="0.6" />
<line x1="140.78" y1="317.20" x2="140.78" y2="316.00" stroke="#555" stroke-width="0.6" />
<line x1="107.80" y1="302.69" x2="109.00" y2="302.69" stroke="#555" stroke-width="0.6" />
<line x1="144.44" y1="317.20" x2="144.44" y2="316.00" stroke="#555" stroke-width="0.6" />
<line x1="107.80" y1="306.31" x2="109.00" y2="306.31" stroke="#555" stroke-width="0.6" />
<line x1="148.11" y1="317.20" x2="148.11" y2="316.00" stroke="#555" stroke-width="0.6" />
<line x1="107.80" y1="309.94" x2="109.00" y2="309.94" stroke="#555" stroke-width="0.6" />
<line x1="151.77" y1="317.20" x2="151.77" y2="316.00" stroke="#555" stroke-width="0.6" />
<line x1="107.80" y1="313.57" x2="109.00" y2="313.57" stroke="#555" stroke-width="0.6" />
<line x1="155.44" y1="317.20" x2="155.44" y2="316.00" stroke="#555" stroke-width="0.6" />
<path d="M124.2,294.8 L128,289.6 L143.9,289.5 L144.6,290.3 L144.6,311.8 L142,314.8 L128.3,315.2 L125.3,312.6 L124.5,296.5 Z" fill="none" stroke="#e07585" stroke-width="0.9"/>
<ellipse cx="136" cy="300.8" rx="4.6" ry="10" fill="#b0b0b0" opacity="0.65" filter="url(#bl)"/>
<ellipse cx="136" cy="300.8" rx="3" ry="7.8" fill="#555" opacity="0.85" filter="url(#bl)"/>
<ellipse cx="136" cy="300.8" rx="1.6" ry="6" fill="#222" opacity="0.8" filter="url(#bl)"/>
<line x1="136" y1="295" x2="136" y2="306.5" stroke="#aaa" stroke-width="0.5"/>
<ellipse cx="133.7" cy="285.4" rx="3.6" ry="3.0" fill="#999" opacity="0.5" filter="url(#bl)"/>
<ellipse cx="133.7" cy="285.4" rx="2.7" ry="2.2" fill="none" stroke="#111" stroke-width="1.9"/>
<text x="145.70" y="303.20" font-size="7.6" textLength="7.00" lengthAdjust="spacingAndGlyphs" >69</text>
<line x1="101.60" y1="323.60" x2="101.60" y2="313.40" stroke="#111" stroke-width="0.9" />
<path d="M100.10,314.00 L103.10,314.00 L101.60,311.20 Z" fill="#111"/>
<line x1="101.15" y1="323.60" x2="111.60" y2="323.60" stroke="#111" stroke-width="0.9" />
<path d="M111.00,322.10 L111.00,325.10 L113.80,323.60 Z" fill="#111"/>
<text x="103.30" y="299.10" font-size="7.2" text-anchor="middle" textLength="19.50" lengthAdjust="spacingAndGlyphs" transform="rotate(-90 103.30 299.10)" >CD45.1</text>
<text x="117.70" y="326.00" font-size="7.2" textLength="21.50" lengthAdjust="spacingAndGlyphs" >CD45.2</text>
<line x1="208.50" y1="197.00" x2="208.50" y2="289.80" stroke="#111" stroke-width="1.2" />
<line x1="205.20" y1="200.15" x2="208.50" y2="200.15" stroke="#111" stroke-width="1" />
<text x="202.20" y="203.10" font-size="8.2" text-anchor="end" textLength="12.30" lengthAdjust="spacingAndGlyphs" >100</text>
<line x1="205.20" y1="217.98" x2="208.50" y2="217.98" stroke="#111" stroke-width="1" />
<text x="202.20" y="220.93" font-size="8.2" text-anchor="end" textLength="8.20" lengthAdjust="spacingAndGlyphs" >80</text>
<line x1="205.20" y1="235.81" x2="208.50" y2="235.81" stroke="#111" stroke-width="1" />
<text x="202.20" y="238.76" font-size="8.2" text-anchor="end" textLength="8.20" lengthAdjust="spacingAndGlyphs" >60</text>
<line x1="205.20" y1="253.64" x2="208.50" y2="253.64" stroke="#111" stroke-width="1" />
<text x="202.20" y="256.59" font-size="8.2" text-anchor="end" textLength="8.20" lengthAdjust="spacingAndGlyphs" >40</text>
<line x1="205.20" y1="271.47" x2="208.50" y2="271.47" stroke="#111" stroke-width="1" />
<text x="202.20" y="274.42" font-size="8.2" text-anchor="end" textLength="8.20" lengthAdjust="spacingAndGlyphs" >20</text>
<line x1="205.20" y1="289.30" x2="208.50" y2="289.30" stroke="#111" stroke-width="1" />
<text x="202.20" y="292.25" font-size="8.2" text-anchor="end" textLength="4.10" lengthAdjust="spacingAndGlyphs" >0</text>
<line x1="208.00" y1="289.30" x2="267.00" y2="289.30" stroke="#111" stroke-width="1.1" />
<line x1="217.30" y1="289.30" x2="217.30" y2="291.80" stroke="#111" stroke-width="1" />
<line x1="230.70" y1="289.30" x2="230.70" y2="291.80" stroke="#111" stroke-width="1" />
<line x1="243.90" y1="289.30" x2="243.90" y2="291.80" stroke="#111" stroke-width="1" />
<line x1="257.50" y1="289.30" x2="257.50" y2="291.80" stroke="#111" stroke-width="1" />
<line x1="237.00" y1="218.20" x2="237.00" y2="289.00" stroke="#8a8a8a" stroke-width="1.2" />
<text x="238.20" y="184.50" font-size="8" text-anchor="middle" >Spleen</text>
<text x="237.50" y="192.90" font-size="8" text-anchor="middle" textLength="49.00" lengthAdjust="spacingAndGlyphs" >(unimmunized)</text>
<text x="184.00" y="243.20" font-size="9.2" text-anchor="middle" textLength="32.80" lengthAdjust="spacingAndGlyphs" transform="rotate(-90 184.00 243.20)" >% CD45.2</text>
<line x1="227.50" y1="211.20" x2="259.00" y2="211.20" stroke="#444" stroke-width="1.1" />
<circle cx="238.22" cy="207.20" r="0.98" fill="#1a1a1a"/>
<circle cx="241.57" cy="207.20" r="0.98" fill="#1a1a1a"/>
<circle cx="244.92" cy="207.20" r="0.98" fill="#1a1a1a"/>
<circle cx="248.28" cy="207.20" r="0.98" fill="#1a1a1a"/>
<line x1="243.10" y1="220.70" x2="259.00" y2="220.70" stroke="#444" stroke-width="1.1" />
<circle cx="246.03" cy="217.10" r="0.98" fill="#1a1a1a"/>
<circle cx="249.38" cy="217.10" r="0.98" fill="#1a1a1a"/>
<circle cx="252.72" cy="217.10" r="0.98" fill="#1a1a1a"/>
<circle cx="256.07" cy="217.10" r="0.98" fill="#1a1a1a"/>
<circle cx="217.50" cy="256.40" r="1.35" fill="none" stroke="#3f78b5" stroke-width="0.8"/>
<circle cx="220.80" cy="259.40" r="1.35" fill="none" stroke="#3f78b5" stroke-width="0.8"/>
<circle cx="217.50" cy="260.30" r="1.35" fill="none" stroke="#3f78b5" stroke-width="0.8"/>
<circle cx="214.50" cy="263.50" r="1.35" fill="none" stroke="#3f78b5" stroke-width="0.8"/>
<circle cx="217.50" cy="264.50" r="1.35" fill="none" stroke="#3f78b5" stroke-width="0.8"/>
<circle cx="220.80" cy="265.00" r="1.35" fill="none" stroke="#3f78b5" stroke-width="0.8"/>
<circle cx="217.50" cy="266.80" r="1.35" fill="none" stroke="#3f78b5" stroke-width="0.8"/>
<circle cx="220.80" cy="268.70" r="1.35" fill="none" stroke="#3f78b5" stroke-width="0.8"/>
<circle cx="217.50" cy="270.10" r="1.35" fill="none" stroke="#3f78b5" stroke-width="0.8"/>
<circle cx="214.50" cy="271.30" r="1.35" fill="none" stroke="#3f78b5" stroke-width="0.8"/>
<circle cx="230.80" cy="248.90" r="1.35" fill="#0e4d8c"/>
<circle cx="230.80" cy="254.90" r="1.35" fill="#0e4d8c"/>
<circle cx="230.80" cy="258.80" r="1.35" fill="#0e4d8c"/>
<circle cx="227.80" cy="261.80" r="1.35" fill="#0e4d8c"/>
<circle cx="229.80" cy="263.60" r="1.35" fill="#0e4d8c"/>
<circle cx="232.20" cy="262.10" r="1.35" fill="#0e4d8c"/>
<circle cx="229.80" cy="268.00" r="1.35" fill="#0e4d8c"/>
<circle cx="227.80" cy="271.00" r="1.35" fill="#0e4d8c"/>
<circle cx="232.20" cy="270.10" r="1.35" fill="#0e4d8c"/>
<circle cx="234.00" cy="270.10" r="1.35" fill="#0e4d8c"/>
<circle cx="242.50" cy="259.00" r="1.35" fill="none" stroke="#d23a52" stroke-width="0.8"/>
<circle cx="245.80" cy="261.10" r="1.35" fill="none" stroke="#d23a52" stroke-width="0.8"/>
<circle cx="241.00" cy="262.60" r="1.35" fill="none" stroke="#d23a52" stroke-width="0.8"/>
<circle cx="244.30" cy="262.90" r="1.35" fill="none" stroke="#d23a52" stroke-width="0.8"/>
<circle cx="247.60" cy="262.90" r="1.35" fill="none" stroke="#d23a52" stroke-width="0.8"/>
<circle cx="242.50" cy="265.00" r="1.35" fill="none" stroke="#d23a52" stroke-width="0.8"/>
<circle cx="245.80" cy="265.00" r="1.35" fill="none" stroke="#d23a52" stroke-width="0.8"/>
<circle cx="244.30" cy="268.00" r="1.35" fill="none" stroke="#d23a52" stroke-width="0.8"/>
<circle cx="246.10" cy="270.40" r="1.35" fill="none" stroke="#d23a52" stroke-width="0.8"/>
<circle cx="242.50" cy="271.90" r="1.35" fill="none" stroke="#d23a52" stroke-width="0.8"/>
<circle cx="257.70" cy="226.80" r="1.35" fill="#d0021b"/>
<circle cx="257.70" cy="233.70" r="1.35" fill="#d0021b"/>
<circle cx="255.80" cy="237.90" r="1.35" fill="#d0021b"/>
<circle cx="259.20" cy="236.80" r="1.35" fill="#d0021b"/>
<circle cx="257.70" cy="243.00" r="1.35" fill="#d0021b"/>
<circle cx="257.70" cy="246.70" r="1.35" fill="#d0021b"/>
<circle cx="255.30" cy="249.50" r="1.35" fill="#d0021b"/>
<circle cx="260.40" cy="249.50" r="1.35" fill="#d0021b"/>
<circle cx="257.70" cy="253.40" r="1.35" fill="#d0021b"/>
<line x1="213.00" y1="264.60" x2="221.80" y2="264.60" stroke="#333" stroke-width="1" />
<line x1="226.20" y1="262.80" x2="234.60" y2="262.80" stroke="#333" stroke-width="1" />
<line x1="240.10" y1="265.00" x2="248.80" y2="265.00" stroke="#333" stroke-width="1" />
<line x1="253.10" y1="242.80" x2="262.20" y2="242.80" stroke="#333" stroke-width="1" />
<text x="219.80" y="298.80" font-size="7.8" text-anchor="end" transform="rotate(-45 219.80 298.80)" >FoB</text>
<text x="233.00" y="298.80" font-size="7.8" text-anchor="end" transform="rotate(-45 233.00 298.80)" >GCB</text>
<text x="246.30" y="298.80" font-size="7.8" text-anchor="end" transform="rotate(-45 246.30 298.80)" >FoB</text>
<text x="259.80" y="298.80" font-size="7.8" text-anchor="end" transform="rotate(-45 259.80 298.80)" >GCB</text>
<line x1="199.20" y1="311.50" x2="228.50" y2="311.50" stroke="#444" stroke-width="1" />
<line x1="234.30" y1="311.50" x2="264.70" y2="311.50" stroke="#444" stroke-width="1" />
<text x="198" y="319.6" font-size="7.6" fill="#111"><tspan font-style="italic">Myd88</tspan><tspan font-size="5" dy="-3">+/+</tspan><tspan dy="3">:</tspan></text>
<text x="198.00" y="327.80" font-size="7.6" textLength="29.00" lengthAdjust="spacingAndGlyphs" >CD45.1/2</text>
<text x="240.60" y="319.60" font-size="7.6" fill="#d0021b" font-style="italic" textLength="23.00" lengthAdjust="spacingAndGlyphs" >Cr2-cre</text>
<text x="231.9" y="327.7" font-size="7.6" fill="#d0021b" font-style="italic">Myd88<tspan font-size="5" dy="-3">L252P/+</tspan><tspan dy="3" fill="#111" font-style="normal">:</tspan></text>
<text x="236.00" y="336.00" font-size="7.6" textLength="30.00" lengthAdjust="spacingAndGlyphs" >CD45.1/2</text>
<line x1="326.40" y1="196.30" x2="326.40" y2="289.90" stroke="#111" stroke-width="1.2" />
<line x1="323.10" y1="200.25" x2="326.40" y2="200.25" stroke="#111" stroke-width="1" />
<text x="320.10" y="203.20" font-size="8.2" text-anchor="end" textLength="12.30" lengthAdjust="spacingAndGlyphs" >100</text>
<line x1="323.10" y1="218.08" x2="326.40" y2="218.08" stroke="#111" stroke-width="1" />
<text x="320.10" y="221.03" font-size="8.2" text-anchor="end" textLength="8.20" lengthAdjust="spacingAndGlyphs" >80</text>
<line x1="323.10" y1="235.91" x2="326.40" y2="235.91" stroke="#111" stroke-width="1" />
<text x="320.10" y="238.86" font-size="8.2" text-anchor="end" textLength="8.20" lengthAdjust="spacingAndGlyphs" >60</text>
<line x1="323.10" y1="253.74" x2="326.40" y2="253.74" stroke="#111" stroke-width="1" />
<text x="320.10" y="256.69" font-size="8.2" text-anchor="end" textLength="8.20" lengthAdjust="spacingAndGlyphs" >40</text>
<line x1="323.10" y1="271.57" x2="326.40" y2="271.57" stroke="#111" stroke-width="1" />
<text x="320.10" y="274.52" font-size="8.2" text-anchor="end" textLength="8.20" lengthAdjust="spacingAndGlyphs" >20</text>
<line x1="323.10" y1="289.40" x2="326.40" y2="289.40" stroke="#111" stroke-width="1" />
<text x="320.10" y="292.35" font-size="8.2" text-anchor="end" textLength="4.10" lengthAdjust="spacingAndGlyphs" >0</text>
<line x1="326.00" y1="289.40" x2="461.60" y2="289.40" stroke="#111" stroke-width="1.1" />
<line x1="340.30" y1="289.40" x2="340.30" y2="291.90" stroke="#111" stroke-width="1" />
<line x1="366.60" y1="289.40" x2="366.60" y2="291.90" stroke="#111" stroke-width="1" />
<line x1="393.00" y1="289.40" x2="393.00" y2="291.90" stroke="#111" stroke-width="1" />
<line x1="419.50" y1="289.40" x2="419.50" y2="291.90" stroke="#111" stroke-width="1" />
<line x1="446.00" y1="289.40" x2="446.00" y2="291.90" stroke="#111" stroke-width="1" />
<line x1="354.40" y1="209.80" x2="354.40" y2="289.40" stroke="#666" stroke-width="1" />
<line x1="380.40" y1="209.80" x2="380.40" y2="289.40" stroke="#666" stroke-width="1" />
<line x1="406.50" y1="209.80" x2="406.50" y2="289.40" stroke="#666" stroke-width="1" />
<line x1="432.80" y1="230.90" x2="432.80" y2="289.40" stroke="#666" stroke-width="1" />
<text x="350.00" y="193.50" font-size="8" textLength="78.00" lengthAdjust="spacingAndGlyphs" >Spleen (unimmunized)</text>
<text x="300.80" y="242.20" font-size="9.2" text-anchor="middle" textLength="32.60" lengthAdjust="spacingAndGlyphs" transform="rotate(-90 300.80 242.20)" >% CD45.2</text>
<line x1="387.10" y1="221.50" x2="400.90" y2="221.50" stroke="#444" stroke-width="1.1" />
<circle cx="388.98" cy="218.30" r="0.98" fill="#1a1a1a"/>
<circle cx="392.33" cy="218.30" r="0.98" fill="#1a1a1a"/>
<circle cx="395.68" cy="218.30" r="0.98" fill="#1a1a1a"/>
<circle cx="399.03" cy="218.30" r="0.98" fill="#1a1a1a"/>
<line x1="413.20" y1="237.90" x2="427.50" y2="237.90" stroke="#444" stroke-width="1.1" />
<circle cx="420.35" cy="234.40" r="0.98" fill="#1a1a1a"/>
<circle cx="331.75" cy="260.50" r="1.35" fill="#0e4d8c"/>
<circle cx="333.50" cy="263.70" r="1.35" fill="#0e4d8c"/>
<circle cx="335.20" cy="263.40" r="1.35" fill="#0e4d8c"/>
<circle cx="331.50" cy="266.00" r="1.35" fill="#0e4d8c"/>
<circle cx="334.90" cy="267.40" r="1.35" fill="#0e4d8c"/>
<circle cx="336.70" cy="266.50" r="1.35" fill="#0e4d8c"/>
<circle cx="331.75" cy="269.70" r="1.35" fill="#0e4d8c"/>
<circle cx="334.90" cy="272.30" r="1.35" fill="#0e4d8c"/>
<circle cx="336.70" cy="272.30" r="1.35" fill="#0e4d8c"/>
<circle cx="331.50" cy="273.80" r="1.35" fill="#0e4d8c"/>
<circle cx="351.10" cy="260.20" r="1.35" fill="#d0021b"/>
<circle cx="348.80" cy="261.60" r="1.35" fill="#d0021b"/>
<circle cx="346.20" cy="262.80" r="1.35" fill="#d0021b"/>
<circle cx="351.10" cy="264.20" r="1.35" fill="#d0021b"/>
<circle cx="346.20" cy="268.00" r="1.35" fill="#d0021b"/>
<circle cx="351.10" cy="269.40" r="1.35" fill="#d0021b"/>
<circle cx="346.20" cy="272.00" r="1.35" fill="#d0021b"/>
<circle cx="348.80" cy="273.20" r="1.35" fill="#d0021b"/>
<circle cx="351.10" cy="275.20" r="1.35" fill="#d0021b"/>
<circle cx="346.20" cy="276.10" r="1.35" fill="#d0021b"/>
<circle cx="361.20" cy="256.90" r="1.35" fill="#0e4d8c"/>
<circle cx="359.80" cy="259.50" r="1.35" fill="#0e4d8c"/>
<circle cx="357.75" cy="260.40" r="1.35" fill="#0e4d8c"/>
<circle cx="359.50" cy="263.80" r="1.35" fill="#0e4d8c"/>
<circle cx="361.20" cy="265.00" r="1.35" fill="#0e4d8c"/>
<circle cx="362.90" cy="264.10" r="1.35" fill="#0e4d8c"/>
<circle cx="357.75" cy="267.00" r="1.35" fill="#0e4d8c"/>
<circle cx="361.20" cy="270.50" r="1.35" fill="#0e4d8c"/>
<circle cx="362.90" cy="269.00" r="1.35" fill="#0e4d8c"/>
<circle cx="357.75" cy="271.30" r="1.35" fill="#0e4d8c"/>
<circle cx="372.50" cy="259.20" r="1.35" fill="#d0021b"/>
<circle cx="375.90" cy="261.20" r="1.35" fill="#d0021b"/>
<circle cx="372.50" cy="263.00" r="1.35" fill="#d0021b"/>
<circle cx="377.70" cy="263.00" r="1.35" fill="#d0021b"/>
<circle cx="374.20" cy="264.10" r="1.35" fill="#d0021b"/>
<circle cx="375.90" cy="265.80" r="1.35" fill="#d0021b"/>
<circle cx="372.50" cy="265.30" r="1.35" fill="#d0021b"/>
<circle cx="374.80" cy="267.60" r="1.35" fill="#d0021b"/>
<circle cx="376.20" cy="270.50" r="1.35" fill="#d0021b"/>
<circle cx="373.60" cy="271.60" r="1.35" fill="#d0021b"/>
<circle cx="386.60" cy="248.80" r="1.35" fill="#0e4d8c"/>
<circle cx="385.70" cy="255.20" r="1.35" fill="#0e4d8c"/>
<circle cx="384.20" cy="258.70" r="1.35" fill="#0e4d8c"/>
<circle cx="384.20" cy="263.70" r="1.35" fill="#0e4d8c"/>
<circle cx="387.10" cy="262.00" r="1.35" fill="#0e4d8c"/>
<circle cx="389.00" cy="261.80" r="1.35" fill="#0e4d8c"/>
<circle cx="385.70" cy="268.10" r="1.35" fill="#0e4d8c"/>
<circle cx="384.20" cy="270.80" r="1.35" fill="#0e4d8c"/>
<circle cx="386.80" cy="270.00" r="1.35" fill="#0e4d8c"/>
<circle cx="389.00" cy="270.50" r="1.35" fill="#0e4d8c"/>
<circle cx="401.20" cy="227.10" r="1.35" fill="#d0021b"/>
<circle cx="401.20" cy="233.70" r="1.35" fill="#d0021b"/>
<circle cx="398.70" cy="237.00" r="1.35" fill="#d0021b"/>
<circle cx="403.60" cy="238.10" r="1.35" fill="#d0021b"/>
<circle cx="398.70" cy="243.10" r="1.35" fill="#d0021b"/>
<circle cx="403.60" cy="246.40" r="1.35" fill="#d0021b"/>
<circle cx="398.70" cy="249.50" r="1.35" fill="#d0021b"/>
<circle cx="401.40" cy="249.50" r="1.35" fill="#d0021b"/>
<circle cx="403.60" cy="250.20" r="1.35" fill="#d0021b"/>
<circle cx="398.70" cy="253.20" r="1.35" fill="#d0021b"/>
<circle cx="415.40" cy="260.50" r="1.35" fill="#0e4d8c"/>
<circle cx="410.50" cy="262.70" r="1.35" fill="#0e4d8c"/>
<circle cx="414.90" cy="265.70" r="1.35" fill="#0e4d8c"/>
<circle cx="412.70" cy="266.80" r="1.35" fill="#0e4d8c"/>
<circle cx="410.30" cy="268.20" r="1.35" fill="#0e4d8c"/>
<circle cx="413.80" cy="268.70" r="1.35" fill="#0e4d8c"/>
<circle cx="412.10" cy="271.20" r="1.35" fill="#0e4d8c"/>
<circle cx="415.40" cy="272.00" r="1.35" fill="#0e4d8c"/>
<circle cx="412.70" cy="277.00" r="1.35" fill="#0e4d8c"/>
<circle cx="424.80" cy="243.20" r="1.35" fill="#d0021b"/>
<circle cx="430.10" cy="245.60" r="1.35" fill="#d0021b"/>
<circle cx="427.50" cy="251.10" r="1.35" fill="#d0021b"/>
<circle cx="427.50" cy="255.30" r="1.35" fill="#d0021b"/>
<circle cx="430.10" cy="261.00" r="1.35" fill="#d0021b"/>
<circle cx="425.00" cy="262.40" r="1.35" fill="#d0021b"/>
<circle cx="430.10" cy="265.20" r="1.35" fill="#d0021b"/>
<circle cx="425.00" cy="266.30" r="1.35" fill="#d0021b"/>
<circle cx="430.10" cy="270.70" r="1.35" fill="#d0021b"/>
<circle cx="425.00" cy="272.00" r="1.35" fill="#d0021b"/>
<circle cx="439.80" cy="264.30" r="1.35" fill="#0e4d8c"/>
<circle cx="436.30" cy="267.50" r="1.35" fill="#0e4d8c"/>
<circle cx="438.10" cy="267.50" r="1.35" fill="#0e4d8c"/>
<circle cx="436.30" cy="271.40" r="1.35" fill="#0e4d8c"/>
<circle cx="440.10" cy="271.40" r="1.35" fill="#0e4d8c"/>
<circle cx="441.80" cy="270.70" r="1.35" fill="#0e4d8c"/>
<circle cx="438.10" cy="275.30" r="1.35" fill="#0e4d8c"/>
<circle cx="441.50" cy="275.30" r="1.35" fill="#0e4d8c"/>
<circle cx="436.30" cy="277.00" r="1.35" fill="#0e4d8c"/>
<circle cx="439.80" cy="276.50" r="1.35" fill="#0e4d8c"/>
<circle cx="452.50" cy="265.80" r="1.35" fill="#d0021b"/>
<circle cx="454.80" cy="266.70" r="1.35" fill="#d0021b"/>
<circle cx="453.40" cy="272.40" r="1.35" fill="#d0021b"/>
<circle cx="451.00" cy="275.60" r="1.35" fill="#d0021b"/>
<circle cx="455.10" cy="273.60" r="1.35" fill="#d0021b"/>
<circle cx="456.20" cy="274.40" r="1.35" fill="#d0021b"/>
<circle cx="453.10" cy="275.30" r="1.35" fill="#d0021b"/>
<circle cx="455.10" cy="276.50" r="1.35" fill="#d0021b"/>
<circle cx="451.90" cy="273.00" r="1.35" fill="#d0021b"/>
<circle cx="454.20" cy="271.80" r="1.35" fill="#d0021b"/>
<line x1="330.30" y1="267.10" x2="337.80" y2="267.10" stroke="#444" stroke-width="1" />
<line x1="347.00" y1="268.60" x2="352.50" y2="268.60" stroke="#444" stroke-width="1" />
<line x1="356.30" y1="264.70" x2="364.40" y2="264.70" stroke="#444" stroke-width="1" />
<line x1="371.30" y1="265.30" x2="378.80" y2="265.30" stroke="#444" stroke-width="1" />
<line x1="384.40" y1="263.10" x2="390.40" y2="263.10" stroke="#444" stroke-width="1" />
<line x1="400.30" y1="242.70" x2="405.00" y2="242.70" stroke="#444" stroke-width="1" />
<line x1="412.90" y1="268.20" x2="416.90" y2="268.20" stroke="#444" stroke-width="1" />
<line x1="423.70" y1="259.10" x2="431.20" y2="259.10" stroke="#444" stroke-width="1" />
<line x1="435.50" y1="271.40" x2="442.50" y2="271.40" stroke="#444" stroke-width="1" />
<line x1="449.90" y1="271.70" x2="457.40" y2="271.70" stroke="#444" stroke-width="1" />
<text x="328.00" y="300.90" font-size="7.8" textLength="22.30" lengthAdjust="spacingAndGlyphs" >Non-B</text>
<text x="359.00" y="300.90" font-size="7.8" textLength="13.80" lengthAdjust="spacingAndGlyphs" >FoB</text>
<text x="384.90" y="300.90" font-size="7.8" textLength="16.70" lengthAdjust="spacingAndGlyphs" >GCB</text>
<text x="415.20" y="300.90" font-size="7.8" textLength="10.10" lengthAdjust="spacingAndGlyphs" >PC</text>
<text x="438.30" y="300.90" font-size="7.8" textLength="16.70" lengthAdjust="spacingAndGlyphs" >MZB</text>
<text x="438.30" y="202.30" font-size="7.8" textLength="27.20" lengthAdjust="spacingAndGlyphs" >CD45.2:</text>
<circle cx="440.00" cy="209.70" r="1.2" fill="#0e4d8c"/>
<text x="444.7" y="211.8" font-size="7.8" font-style="italic" fill="#111">Myd88<tspan font-size="5" dy="-3" font-style="normal">+/+</tspan></text>
<circle cx="440.00" cy="217.60" r="1.2" fill="#d0021b"/>
<text x="444.7" y="220.5" font-size="7.8" font-style="italic" fill="#d0021b" textLength="68.1" lengthAdjust="spacingAndGlyphs">Cr2-cre Myd88<tspan font-size="5" dy="-3">L252P/+</tspan></text>
<line x1="42.00" y1="363.40" x2="42.00" y2="457.20" stroke="#111" stroke-width="1.2" />
<line x1="38.70" y1="367.70" x2="42.00" y2="367.70" stroke="#111" stroke-width="1" />
<text x="35.10" y="370.65" font-size="8.2" text-anchor="end" textLength="8.20" lengthAdjust="spacingAndGlyphs" >80</text>
<line x1="38.70" y1="389.95" x2="42.00" y2="389.95" stroke="#111" stroke-width="1" />
<text x="35.10" y="392.90" font-size="8.2" text-anchor="end" textLength="8.20" lengthAdjust="spacingAndGlyphs" >60</text>
<line x1="38.70" y1="412.20" x2="42.00" y2="412.20" stroke="#111" stroke-width="1" />
<text x="35.10" y="415.15" font-size="8.2" text-anchor="end" textLength="8.20" lengthAdjust="spacingAndGlyphs" >40</text>
<line x1="38.70" y1="434.45" x2="42.00" y2="434.45" stroke="#111" stroke-width="1" />
<text x="35.10" y="437.40" font-size="8.2" text-anchor="end" textLength="8.20" lengthAdjust="spacingAndGlyphs" >20</text>
<line x1="38.70" y1="456.70" x2="42.00" y2="456.70" stroke="#111" stroke-width="1" />
<text x="35.10" y="459.65" font-size="8.2" text-anchor="end" textLength="4.10" lengthAdjust="spacingAndGlyphs" >0</text>
<line x1="41.50" y1="456.70" x2="107.70" y2="456.70" stroke="#111" stroke-width="1.1" />
<line x1="51.80" y1="456.70" x2="51.80" y2="459.20" stroke="#111" stroke-width="1" />
<line x1="73.50" y1="456.70" x2="73.50" y2="459.20" stroke="#111" stroke-width="1" />
<line x1="94.50" y1="456.70" x2="94.50" y2="459.20" stroke="#111" stroke-width="1" />
<line x1="64.50" y1="367.60" x2="64.50" y2="456.70" stroke="#666" stroke-width="1" />
<line x1="85.40" y1="367.60" x2="85.40" y2="456.70" stroke="#666" stroke-width="1" />
<text x="20.60" y="409.60" font-size="9.0" text-anchor="middle" textLength="31.40" lengthAdjust="spacingAndGlyphs" transform="rotate(-90 20.60 409.60)" >% CD45.2</text>
<line x1="67.90" y1="382.00" x2="81.40" y2="382.00" stroke="#8a8a8a" stroke-width="1.5" />
<circle cx="69.62" cy="378.10" r="0.98" fill="#1a1a1a"/>
<circle cx="72.97" cy="378.10" r="0.98" fill="#1a1a1a"/>
<circle cx="76.33" cy="378.10" r="0.98" fill="#1a1a1a"/>
<circle cx="79.67" cy="378.10" r="0.98" fill="#1a1a1a"/>
<line x1="88.60" y1="377.50" x2="101.70" y2="377.50" stroke="#333" stroke-width="0.9" />
<circle cx="90.12" cy="373.90" r="0.98" fill="#1a1a1a"/>
<circle cx="93.47" cy="373.90" r="0.98" fill="#1a1a1a"/>
<circle cx="96.83" cy="373.90" r="0.98" fill="#1a1a1a"/>
<circle cx="100.17" cy="373.90" r="0.98" fill="#1a1a1a"/>
<circle cx="47.60" cy="414.20" r="1.35" fill="#0e4d8c"/>
<circle cx="47.90" cy="419.80" r="1.35" fill="#0e4d8c"/>
<circle cx="45.80" cy="423.30" r="1.35" fill="#0e4d8c"/>
<circle cx="47.60" cy="425.00" r="1.35" fill="#0e4d8c"/>
<circle cx="49.30" cy="425.70" r="1.35" fill="#0e4d8c"/>
<circle cx="46.20" cy="427.80" r="1.35" fill="#0e4d8c"/>
<circle cx="49.30" cy="430.60" r="1.35" fill="#0e4d8c"/>
<circle cx="47.90" cy="431.70" r="1.35" fill="#0e4d8c"/>
<circle cx="46.20" cy="433.40" r="1.35" fill="#0e4d8c"/>
<circle cx="45.20" cy="425.90" r="1.35" fill="#0e4d8c"/>
<circle cx="58.80" cy="422.60" r="1.35" fill="#d0021b"/>
<circle cx="60.30" cy="422.60" r="1.35" fill="#d0021b"/>
<circle cx="58.10" cy="425.90" r="1.35" fill="#d0021b"/>
<circle cx="61.60" cy="425.90" r="1.35" fill="#d0021b"/>
<circle cx="59.80" cy="427.50" r="1.35" fill="#d0021b"/>
<circle cx="59.80" cy="429.20" r="1.35" fill="#d0021b"/>
<circle cx="60.30" cy="432.70" r="1.35" fill="#d0021b"/>
<circle cx="58.80" cy="434.10" r="1.35" fill="#d0021b"/>
<circle cx="60.30" cy="436.60" r="1.35" fill="#d0021b"/>
<circle cx="58.80" cy="438.70" r="1.35" fill="#d0021b"/>
<circle cx="67.90" cy="426.30" r="1.35" fill="#0e4d8c"/>
<circle cx="70.00" cy="429.50" r="1.35" fill="#0e4d8c"/>
<circle cx="67.20" cy="431.60" r="1.35" fill="#0e4d8c"/>
<circle cx="69.30" cy="433.70" r="1.35" fill="#0e4d8c"/>
<circle cx="67.20" cy="435.10" r="1.35" fill="#0e4d8c"/>
<circle cx="70.30" cy="436.50" r="1.35" fill="#0e4d8c"/>
<circle cx="68.60" cy="437.90" r="1.35" fill="#0e4d8c"/>
<circle cx="70.70" cy="438.60" r="1.35" fill="#0e4d8c"/>
<circle cx="68.90" cy="443.00" r="1.35" fill="#0e4d8c"/>
<circle cx="80.90" cy="387.30" r="1.35" fill="#d0021b"/>
<circle cx="80.90" cy="393.20" r="1.35" fill="#d0021b"/>
<circle cx="79.50" cy="397.00" r="1.35" fill="#d0021b"/>
<circle cx="82.20" cy="396.50" r="1.35" fill="#d0021b"/>
<circle cx="79.50" cy="402.30" r="1.35" fill="#d0021b"/>
<circle cx="80.90" cy="405.40" r="1.35" fill="#d0021b"/>
<circle cx="82.20" cy="409.30" r="1.35" fill="#d0021b"/>
<circle cx="79.50" cy="410.40" r="1.35" fill="#d0021b"/>
<circle cx="80.40" cy="408.60" r="1.35" fill="#d0021b"/>
<circle cx="81.80" cy="399.50" r="1.35" fill="#d0021b"/>
<circle cx="90.20" cy="415.90" r="1.35" fill="#0e4d8c"/>
<circle cx="90.20" cy="425.40" r="1.35" fill="#0e4d8c"/>
<circle cx="88.90" cy="427.30" r="1.35" fill="#0e4d8c"/>
<circle cx="90.90" cy="427.80" r="1.35" fill="#0e4d8c"/>
<circle cx="88.60" cy="429.50" r="1.35" fill="#0e4d8c"/>
<circle cx="91.40" cy="430.00" r="1.35" fill="#0e4d8c"/>
<circle cx="90.20" cy="437.20" r="1.35" fill="#0e4d8c"/>
<circle cx="90.20" cy="446.70" r="1.35" fill="#0e4d8c"/>
<circle cx="102.00" cy="381.90" r="1.35" fill="#d0021b"/>
<circle cx="102.00" cy="394.60" r="1.35" fill="#d0021b"/>
<circle cx="100.40" cy="403.20" r="1.35" fill="#d0021b"/>
<circle cx="103.70" cy="405.40" r="1.35" fill="#d0021b"/>
<circle cx="100.90" cy="408.20" r="1.35" fill="#d0021b"/>
<circle cx="102.40" cy="409.30" r="1.35" fill="#d0021b"/>
<circle cx="100.40" cy="415.90" r="1.35" fill="#d0021b"/>
<circle cx="103.70" cy="415.50" r="1.35" fill="#d0021b"/>
<circle cx="102.00" cy="413.90" r="1.35" fill="#d0021b"/>
<line x1="44.40" y1="425.70" x2="50.00" y2="425.70" stroke="#444" stroke-width="1" />
<line x1="57.00" y1="429.60" x2="63.00" y2="429.60" stroke="#444" stroke-width="1" />
<line x1="66.10" y1="433.70" x2="71.60" y2="433.70" stroke="#444" stroke-width="1" />
<line x1="78.30" y1="401.20" x2="83.60" y2="401.20" stroke="#444" stroke-width="1" />
<line x1="87.80" y1="428.30" x2="92.80" y2="428.30" stroke="#444" stroke-width="1" />
<line x1="99.40" y1="405.70" x2="104.60" y2="405.70" stroke="#444" stroke-width="1" />
<text x="54.60" y="465.00" font-size="7.8" text-anchor="end" transform="rotate(-45 54.60 465.00)" >FoB</text>
<text x="76.2" y="465.0" font-size="7.8" text-anchor="end" transform="rotate(-45 76.2 465.0)" fill="#111">IgM<tspan font-size="5" dy="-3">+</tspan><tspan dy="3"> GCB</tspan></text>
<text x="97.2" y="464.5" font-size="7.8" text-anchor="end" transform="rotate(-45 97.2 464.5)" fill="#111">IgM<tspan font-size="5" dy="-3">–</tspan><tspan dy="3"> GCB</tspan></text>
<text x="111.90" y="368.80" font-size="7.8" textLength="25.10" lengthAdjust="spacingAndGlyphs" >CD45.2</text>
<circle cx="115.40" cy="376.60" r="1.2" fill="#0e4d8c"/>
<text x="119.7" y="378.9" font-size="7.8" font-style="italic" fill="#111">Myd88<tspan font-size="5" dy="-3" font-style="normal">+/+</tspan></text>
<circle cx="115.40" cy="386.10" r="1.2" fill="#d0021b"/>
<text x="119.7" y="388.1" font-size="7.8" font-style="italic" fill="#d0021b" textLength="67.6" lengthAdjust="spacingAndGlyphs">Cr2-cre Myd88<tspan font-size="5" dy="-3">L252P/+</tspan></text>
<line x1="243.40" y1="363.00" x2="243.40" y2="457.00" stroke="#111" stroke-width="1.2" />
<line x1="240.30" y1="367.25" x2="243.40" y2="367.25" stroke="#111" stroke-width="1" />
<text x="237.00" y="370.13" font-size="8" text-anchor="end" textLength="4.10" lengthAdjust="spacingAndGlyphs" >5</text>
<line x1="240.30" y1="385.10" x2="243.40" y2="385.10" stroke="#111" stroke-width="1" />
<text x="237.00" y="387.98" font-size="8" text-anchor="end" textLength="4.10" lengthAdjust="spacingAndGlyphs" >4</text>
<line x1="240.30" y1="402.95" x2="243.40" y2="402.95" stroke="#111" stroke-width="1" />
<text x="237.00" y="405.83" font-size="8" text-anchor="end" textLength="4.10" lengthAdjust="spacingAndGlyphs" >3</text>
<line x1="240.30" y1="420.80" x2="243.40" y2="420.80" stroke="#111" stroke-width="1" />
<text x="237.00" y="423.68" font-size="8" text-anchor="end" textLength="4.10" lengthAdjust="spacingAndGlyphs" >2</text>
<line x1="240.30" y1="438.65" x2="243.40" y2="438.65" stroke="#111" stroke-width="1" />
<text x="237.00" y="441.53" font-size="8" text-anchor="end" textLength="4.10" lengthAdjust="spacingAndGlyphs" >1</text>
<line x1="240.30" y1="456.50" x2="243.40" y2="456.50" stroke="#111" stroke-width="1" />
<text x="237.00" y="459.38" font-size="8" text-anchor="end" textLength="4.10" lengthAdjust="spacingAndGlyphs" >0</text>
<line x1="243.00" y1="456.50" x2="312.40" y2="456.50" stroke="#111" stroke-width="1.1" />
<line x1="255.30" y1="456.50" x2="255.30" y2="459.00" stroke="#111" stroke-width="1" />
<line x1="278.50" y1="456.50" x2="278.50" y2="459.00" stroke="#111" stroke-width="1" />
<line x1="302.60" y1="456.50" x2="302.60" y2="459.00" stroke="#111" stroke-width="1" />
<text x="226.3" y="409.6" font-size="9.3" text-anchor="middle" transform="rotate(-90 226.3 409.6)" fill="#111" textLength="80" lengthAdjust="spacingAndGlyphs">GCB cells/spleen (×10<tspan font-size="6" dy="-3.4">6</tspan><tspan dy="3.4">)</tspan></text>
<circle cx="255.20" cy="440.10" r="1.35" fill="#0e4d8c"/>
<circle cx="255.20" cy="445.90" r="1.35" fill="#0e4d8c"/>
<circle cx="255.20" cy="450.10" r="1.35" fill="#0e4d8c"/>
<circle cx="251.30" cy="453.70" r="1.35" fill="#0e4d8c"/>
<circle cx="253.20" cy="452.60" r="1.35" fill="#0e4d8c"/>
<circle cx="255.70" cy="452.30" r="1.35" fill="#0e4d8c"/>
<circle cx="257.40" cy="452.90" r="1.35" fill="#0e4d8c"/>
<circle cx="259.60" cy="454.60" r="1.35" fill="#0e4d8c"/>
<circle cx="250.10" cy="454.30" r="1.35" fill="#0e4d8c"/>
<circle cx="255.20" cy="435.40" r="1.35" fill="#d0021b"/>
<circle cx="252.90" cy="443.40" r="1.35" fill="#d0021b"/>
<circle cx="257.40" cy="444.00" r="1.35" fill="#d0021b"/>
<circle cx="259.40" cy="448.20" r="1.35" fill="#d0021b"/>
<circle cx="257.70" cy="449.00" r="1.35" fill="#d0021b"/>
<circle cx="252.90" cy="449.70" r="1.35" fill="#d0021b"/>
<circle cx="259.60" cy="451.80" r="1.35" fill="#d0021b"/>
<circle cx="274.00" cy="433.20" r="1.35" fill="#0e4d8c"/>
<circle cx="277.20" cy="433.80" r="1.35" fill="#0e4d8c"/>
<circle cx="280.20" cy="434.10" r="1.35" fill="#0e4d8c"/>
<circle cx="283.30" cy="434.50" r="1.35" fill="#0e4d8c"/>
<circle cx="278.00" cy="442.60" r="1.35" fill="#0e4d8c"/>
<circle cx="274.00" cy="448.30" r="1.35" fill="#0e4d8c"/>
<circle cx="283.20" cy="446.60" r="1.35" fill="#0e4d8c"/>
<circle cx="279.00" cy="409.70" r="1.35" fill="#d0021b"/>
<circle cx="279.00" cy="414.70" r="1.35" fill="#d0021b"/>
<circle cx="279.00" cy="423.50" r="1.35" fill="#d0021b"/>
<circle cx="277.30" cy="446.60" r="1.35" fill="#d0021b"/>
<circle cx="280.60" cy="447.70" r="1.35" fill="#d0021b"/>
<circle cx="301.40" cy="421.90" r="1.35" fill="#0e4d8c"/>
<circle cx="301.60" cy="430.90" r="1.35" fill="#0e4d8c"/>
<circle cx="301.90" cy="433.50" r="1.35" fill="#0e4d8c"/>
<circle cx="303.60" cy="436.50" r="1.35" fill="#0e4d8c"/>
<circle cx="300.60" cy="437.70" r="1.35" fill="#0e4d8c"/>
<circle cx="304.40" cy="438.20" r="1.35" fill="#0e4d8c"/>
<circle cx="302.30" cy="439.90" r="1.35" fill="#0e4d8c"/>
<circle cx="298.90" cy="442.00" r="1.35" fill="#0e4d8c"/>
<circle cx="304.90" cy="440.80" r="1.35" fill="#0e4d8c"/>
<circle cx="306.20" cy="443.30" r="1.35" fill="#0e4d8c"/>
<circle cx="300.20" cy="444.60" r="1.35" fill="#0e4d8c"/>
<circle cx="304.00" cy="445.00" r="1.35" fill="#0e4d8c"/>
<circle cx="306.60" cy="445.50" r="1.35" fill="#0e4d8c"/>
<circle cx="300.60" cy="447.60" r="1.35" fill="#0e4d8c"/>
<circle cx="304.90" cy="448.00" r="1.35" fill="#0e4d8c"/>
<circle cx="307.00" cy="448.50" r="1.35" fill="#0e4d8c"/>
<circle cx="301.90" cy="449.30" r="1.35" fill="#0e4d8c"/>
<circle cx="301.00" cy="455.30" r="1.35" fill="#0e4d8c"/>
<circle cx="300.20" cy="434.30" r="1.35" fill="#0e4d8c"/>
<circle cx="302.70" cy="434.70" r="1.35" fill="#0e4d8c"/>
<circle cx="299.00" cy="440.00" r="1.35" fill="#0e4d8c"/>
<circle cx="303.00" cy="442.50" r="1.35" fill="#0e4d8c"/>
<circle cx="305.50" cy="451.00" r="1.35" fill="#0e4d8c"/>
<circle cx="302.00" cy="452.00" r="1.35" fill="#0e4d8c"/>
<circle cx="302.10" cy="386.20" r="1.35" fill="#d0021b"/>
<circle cx="302.40" cy="400.20" r="1.35" fill="#d0021b"/>
<circle cx="300.60" cy="403.60" r="1.35" fill="#d0021b"/>
<circle cx="302.70" cy="405.20" r="1.35" fill="#d0021b"/>
<circle cx="302.40" cy="410.60" r="1.35" fill="#d0021b"/>
<circle cx="302.50" cy="417.10" r="1.35" fill="#d0021b"/>
<circle cx="303.20" cy="423.60" r="1.35" fill="#d0021b"/>
<circle cx="304.00" cy="427.00" r="1.35" fill="#d0021b"/>
<circle cx="303.20" cy="428.70" r="1.35" fill="#d0021b"/>
<circle cx="299.30" cy="435.20" r="1.35" fill="#d0021b"/>
<circle cx="301.90" cy="444.20" r="1.35" fill="#d0021b"/>
<circle cx="298.00" cy="446.90" r="1.35" fill="#d0021b"/>
<circle cx="303.00" cy="450.40" r="1.35" fill="#d0021b"/>
<circle cx="303.20" cy="454.10" r="1.35" fill="#d0021b"/>
<line x1="249.00" y1="448.30" x2="259.10" y2="448.30" stroke="#222" stroke-width="1" />
<line x1="272.90" y1="423.60" x2="285.00" y2="423.60" stroke="#222" stroke-width="1" />
<line x1="272.90" y1="438.90" x2="285.00" y2="438.90" stroke="#222" stroke-width="1" />
<line x1="296.70" y1="425.30" x2="308.10" y2="425.30" stroke="#222" stroke-width="1" />
<circle cx="299.40" cy="376.80" r="0.85" fill="#1a1a1a"/>
<circle cx="302.60" cy="376.80" r="0.85" fill="#1a1a1a"/>
<circle cx="305.80" cy="376.80" r="0.85" fill="#1a1a1a"/>
<text x="256.80" y="467.20" font-size="9.2" text-anchor="end" textLength="22.50" lengthAdjust="spacingAndGlyphs" transform="rotate(-45 256.80 467.20)" >14–25</text>
<text x="280.30" y="467.20" font-size="9.2" text-anchor="end" textLength="22.50" lengthAdjust="spacingAndGlyphs" transform="rotate(-45 280.30 467.20)" >28–32</text>
<text x="303.80" y="467.20" font-size="9.2" text-anchor="end" textLength="22.50" lengthAdjust="spacingAndGlyphs" transform="rotate(-45 303.80 467.20)" >40–50</text>
<text x="258.50" y="493.90" font-size="8.6" textLength="39.80" lengthAdjust="spacingAndGlyphs" >Age (weeks)</text>
<line x1="366.50" y1="363.40" x2="366.50" y2="456.80" stroke="#111" stroke-width="1.2" />
<line x1="363.80" y1="367.20" x2="366.50" y2="367.20" stroke="#111" stroke-width="1" />
<text x="361.40" y="370.08" font-size="8" text-anchor="end" textLength="7.80" lengthAdjust="spacingAndGlyphs" >10</text>
<line x1="363.80" y1="385.02" x2="366.50" y2="385.02" stroke="#111" stroke-width="1" />
<text x="361.40" y="387.90" font-size="8" text-anchor="end" textLength="3.90" lengthAdjust="spacingAndGlyphs" >8</text>
<line x1="363.80" y1="402.84" x2="366.50" y2="402.84" stroke="#111" stroke-width="1" />
<text x="361.40" y="405.72" font-size="8" text-anchor="end" textLength="3.90" lengthAdjust="spacingAndGlyphs" >6</text>
<line x1="363.80" y1="420.66" x2="366.50" y2="420.66" stroke="#111" stroke-width="1" />
<text x="361.40" y="423.54" font-size="8" text-anchor="end" textLength="3.90" lengthAdjust="spacingAndGlyphs" >4</text>
<line x1="363.80" y1="438.48" x2="366.50" y2="438.48" stroke="#111" stroke-width="1" />
<text x="361.40" y="441.36" font-size="8" text-anchor="end" textLength="3.90" lengthAdjust="spacingAndGlyphs" >2</text>
<line x1="363.80" y1="456.30" x2="366.50" y2="456.30" stroke="#111" stroke-width="1" />
<text x="361.40" y="459.18" font-size="8" text-anchor="end" textLength="3.90" lengthAdjust="spacingAndGlyphs" >0</text>
<line x1="366.00" y1="456.30" x2="436.40" y2="456.30" stroke="#111" stroke-width="1.1" />
<line x1="378.00" y1="456.30" x2="378.00" y2="458.80" stroke="#111" stroke-width="1" />
<line x1="401.80" y1="456.30" x2="401.80" y2="458.80" stroke="#111" stroke-width="1" />
<line x1="425.50" y1="456.30" x2="425.50" y2="458.80" stroke="#111" stroke-width="1" />
<text x="350.4" y="409.5" font-size="9.3" text-anchor="middle" transform="rotate(-90 350.4 409.5)" fill="#111" textLength="90" lengthAdjust="spacingAndGlyphs">Plasma cells/spleen (×10<tspan font-size="6" dy="-3.4">6</tspan><tspan dy="3.4">)</tspan></text>
<circle cx="372.50" cy="455.50" r="1.35" fill="#0e4d8c"/>
<circle cx="379.00" cy="455.80" r="1.35" fill="#0e4d8c"/>
<circle cx="382.00" cy="455.50" r="1.35" fill="#0e4d8c"/>
<circle cx="373.50" cy="454.00" r="1.35" fill="#d0021b"/>
<circle cx="375.50" cy="453.30" r="1.35" fill="#d0021b"/>
<circle cx="378.00" cy="452.60" r="1.35" fill="#d0021b"/>
<circle cx="380.50" cy="454.00" r="1.35" fill="#d0021b"/>
<circle cx="383.00" cy="454.50" r="1.35" fill="#d0021b"/>
<circle cx="377.00" cy="454.80" r="1.35" fill="#d0021b"/>
<circle cx="397.20" cy="450.50" r="1.35" fill="#0e4d8c"/>
<circle cx="397.50" cy="454.30" r="1.35" fill="#0e4d8c"/>
<circle cx="402.50" cy="453.50" r="1.35" fill="#0e4d8c"/>
<circle cx="405.00" cy="452.30" r="1.35" fill="#0e4d8c"/>
<circle cx="404.00" cy="455.00" r="1.35" fill="#0e4d8c"/>
<circle cx="401.80" cy="430.10" r="1.35" fill="#d0021b"/>
<circle cx="401.80" cy="441.20" r="1.35" fill="#d0021b"/>
<circle cx="401.80" cy="445.30" r="1.35" fill="#d0021b"/>
<circle cx="399.10" cy="453.40" r="1.35" fill="#d0021b"/>
<circle cx="406.30" cy="454.00" r="1.35" fill="#d0021b"/>
<circle cx="424.20" cy="443.90" r="1.35" fill="#0e4d8c"/>
<circle cx="423.40" cy="444.70" r="1.35" fill="#0e4d8c"/>
<circle cx="422.60" cy="447.10" r="1.35" fill="#0e4d8c"/>
<circle cx="424.20" cy="447.50" r="1.35" fill="#0e4d8c"/>
<circle cx="427.00" cy="448.70" r="1.35" fill="#0e4d8c"/>
<circle cx="429.30" cy="449.90" r="1.35" fill="#0e4d8c"/>
<circle cx="428.50" cy="450.30" r="1.35" fill="#0e4d8c"/>
<circle cx="421.40" cy="450.30" r="1.35" fill="#0e4d8c"/>
<circle cx="421.00" cy="451.50" r="1.35" fill="#0e4d8c"/>
<circle cx="429.70" cy="451.90" r="1.35" fill="#0e4d8c"/>
<circle cx="422.20" cy="453.50" r="1.35" fill="#0e4d8c"/>
<circle cx="426.20" cy="454.70" r="1.35" fill="#0e4d8c"/>
<circle cx="428.10" cy="454.30" r="1.35" fill="#0e4d8c"/>
<circle cx="423.40" cy="455.10" r="1.35" fill="#0e4d8c"/>
<circle cx="425.40" cy="455.90" r="1.35" fill="#0e4d8c"/>
<circle cx="425.40" cy="383.10" r="1.35" fill="#d0021b"/>
<circle cx="425.40" cy="400.00" r="1.35" fill="#d0021b"/>
<circle cx="425.40" cy="409.00" r="1.35" fill="#d0021b"/>
<circle cx="425.00" cy="424.00" r="1.35" fill="#d0021b"/>
<circle cx="425.80" cy="427.20" r="1.35" fill="#d0021b"/>
<circle cx="425.20" cy="431.60" r="1.35" fill="#d0021b"/>
<circle cx="425.20" cy="434.70" r="1.35" fill="#d0021b"/>
<circle cx="425.40" cy="438.70" r="1.35" fill="#d0021b"/>
<circle cx="426.20" cy="441.50" r="1.35" fill="#d0021b"/>
<circle cx="424.40" cy="442.70" r="1.35" fill="#d0021b"/>
<circle cx="425.80" cy="445.50" r="1.35" fill="#d0021b"/>
<circle cx="427.70" cy="447.10" r="1.35" fill="#d0021b"/>
<circle cx="425.00" cy="449.50" r="1.35" fill="#d0021b"/>
<circle cx="423.00" cy="451.90" r="1.35" fill="#d0021b"/>
<circle cx="427.40" cy="452.70" r="1.35" fill="#d0021b"/>
<circle cx="425.00" cy="454.30" r="1.35" fill="#d0021b"/>
<line x1="395.90" y1="445.20" x2="407.80" y2="445.20" stroke="#222" stroke-width="1" />
<line x1="419.70" y1="440.30" x2="430.80" y2="440.30" stroke="#222" stroke-width="1" />
<circle cx="422.20" cy="376.40" r="0.85" fill="#1a1a1a"/>
<circle cx="425.40" cy="376.40" r="0.85" fill="#1a1a1a"/>
<circle cx="428.60" cy="376.40" r="0.85" fill="#1a1a1a"/>
<text x="384.80" y="467.60" font-size="9.2" text-anchor="end" textLength="22.50" lengthAdjust="spacingAndGlyphs" transform="rotate(-45 384.80 467.60)" >14–25</text>
<text x="406.00" y="467.60" font-size="9.2" text-anchor="end" textLength="22.50" lengthAdjust="spacingAndGlyphs" transform="rotate(-45 406.00 467.60)" >28–32</text>
<text x="429.30" y="467.60" font-size="9.2" text-anchor="end" textLength="22.50" lengthAdjust="spacingAndGlyphs" transform="rotate(-45 429.30 467.60)" >40–50</text>
<text x="381.90" y="490.60" font-size="8.6" textLength="39.50" lengthAdjust="spacingAndGlyphs" >Age (weeks)</text>
<circle cx="439.80" cy="376.50" r="1.2" fill="#0e4d8c"/>
<text x="444.00" y="378.90" font-size="8" textLength="33.80" lengthAdjust="spacingAndGlyphs" >Littermate</text>
<circle cx="439.80" cy="386.10" r="1.2" fill="#d0021b"/>
<text x="444" y="388.2" font-size="7.8" font-style="italic" fill="#d0021b" textLength="68.8" lengthAdjust="spacingAndGlyphs">Cr2-cre Myd88<tspan font-size="5" dy="-3">L252P/+</tspan></text>
<rect x="0.5" y="0.5" width="519" height="500" fill="none" stroke="#000" stroke-width="1"/>
</svg>
</body></html>
